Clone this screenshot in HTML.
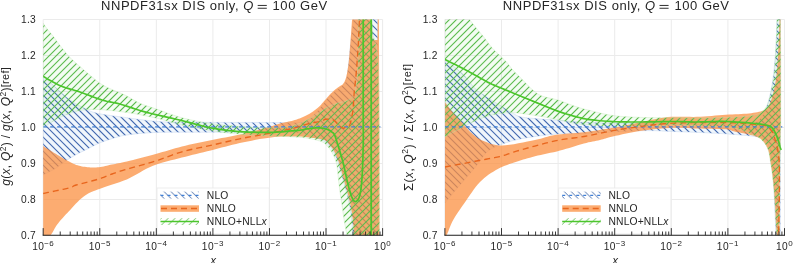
<!DOCTYPE html>
<html><head><meta charset="utf-8"><style>
html,body{margin:0;padding:0;background:#fff;width:793px;height:263px;overflow:hidden}
svg{display:block;will-change:transform}
text{font-family:"Liberation Sans",sans-serif;fill:#262626}
</style></head><body>
<svg width="793" height="263" viewBox="0 0 793 263">
<defs>
<pattern id="hb" patternUnits="userSpaceOnUse" width="6.9" height="6.9">
<path d="M-1,-1 L7.9,7.9 M-1,5.9 L1,7.9 M5.9,-1 L7.9,1" stroke="#4b6fab" stroke-width="1" shape-rendering="crispEdges"/>
</pattern>
<pattern id="hg" patternUnits="userSpaceOnUse" width="6.9" height="6.9">
<path d="M-1,7.9 L7.9,-1 M-1,1 L1,-1 M5.9,7.9 L7.9,5.9" stroke="#62bd55" stroke-width="1" shape-rendering="crispEdges"/>
</pattern>
<pattern id="hbl" patternUnits="userSpaceOnUse" width="6.9" height="6.9">
<path d="M-1,-1 L7.9,7.9 M-1,5.9 L1,7.9 M5.9,-1 L7.9,1" stroke="#4b6fab" stroke-width="1" shape-rendering="crispEdges"/>
</pattern>
<pattern id="hgl" patternUnits="userSpaceOnUse" width="6.9" height="6.9">
<path d="M-1,7.9 L7.9,-1 M-1,1 L1,-1 M5.9,7.9 L7.9,5.9" stroke="#62bd55" stroke-width="1" shape-rendering="crispEdges"/>
</pattern>
</defs>
<rect width="793" height="263" fill="#fff"/>
<clipPath id="cl"><rect x="43.2" y="19.5" width="339.40000000000003" height="216.0"/></clipPath>
<g stroke="#ebebeb" stroke-width="1"><line x1="43.20" y1="19.5" x2="43.20" y2="235.5"/>
<line x1="99.77" y1="19.5" x2="99.77" y2="235.5"/>
<line x1="156.33" y1="19.5" x2="156.33" y2="235.5"/>
<line x1="212.90" y1="19.5" x2="212.90" y2="235.5"/>
<line x1="269.47" y1="19.5" x2="269.47" y2="235.5"/>
<line x1="326.03" y1="19.5" x2="326.03" y2="235.5"/>
<line x1="382.60" y1="19.5" x2="382.60" y2="235.5"/>
<line x1="43.2" y1="19.50" x2="382.6" y2="19.50"/>
<line x1="43.2" y1="55.50" x2="382.6" y2="55.50"/>
<line x1="43.2" y1="91.50" x2="382.6" y2="91.50"/>
<line x1="43.2" y1="127.50" x2="382.6" y2="127.50"/>
<line x1="43.2" y1="163.50" x2="382.6" y2="163.50"/>
<line x1="43.2" y1="199.50" x2="382.6" y2="199.50"/>
<line x1="43.2" y1="235.50" x2="382.6" y2="235.50"/></g>
<g clip-path="url(#cl)">
<path d="M43.00,76.00 L43.91,76.83 L45.09,77.93 L46.49,79.23 L48.06,80.69 L49.75,82.25 L51.51,83.85 L53.27,85.45 L55.00,87.00 L56.73,88.56 L58.54,90.21 L60.41,91.93 L62.31,93.66 L64.24,95.37 L66.18,97.02 L68.10,98.58 L70.00,100.00 L71.89,101.30 L73.80,102.53 L75.72,103.68 L77.64,104.76 L79.54,105.77 L81.40,106.73 L83.23,107.64 L85.00,108.50 L86.59,109.29 L87.97,109.99 L89.25,110.63 L90.53,111.21 L91.91,111.76 L93.51,112.30 L95.44,112.84 L97.80,113.40 L100.65,113.97 L103.91,114.53 L107.49,115.09 L111.29,115.63 L115.22,116.17 L119.18,116.69 L123.07,117.20 L126.80,117.70 L130.44,118.20 L134.10,118.71 L137.76,119.22 L141.43,119.71 L145.06,120.18 L148.67,120.61 L152.22,120.98 L155.70,121.30 L158.67,121.55 L160.97,121.73 L162.96,121.86 L165.04,121.96 L167.59,122.03 L170.99,122.08 L175.63,122.13 L181.90,122.20 L190.44,122.27 L201.16,122.32 L213.35,122.37 L226.28,122.41 L239.23,122.44 L251.48,122.46 L262.31,122.48 L271.00,122.50 L277.63,122.54 L282.92,122.61 L287.11,122.70 L290.44,122.77 L293.16,122.81 L295.49,122.79 L297.70,122.69 L300.00,122.50 L302.19,122.21 L303.93,121.83 L305.32,121.38 L306.44,120.88 L307.38,120.32 L308.23,119.73 L309.07,119.12 L310.00,118.50 L310.94,117.85 L311.78,117.15 L312.54,116.42 L313.25,115.66 L313.93,114.87 L314.59,114.08 L315.28,113.29 L316.00,112.50 L316.75,111.72 L317.50,110.95 L318.25,110.17 L319.00,109.38 L319.75,108.57 L320.50,107.74 L321.25,106.89 L322.00,106.00 L322.74,105.06 L323.48,104.07 L324.21,103.04 L324.94,102.00 L325.68,100.96 L326.43,99.93 L327.20,98.94 L328.00,98.00 L328.83,97.10 L329.70,96.22 L330.60,95.36 L331.50,94.53 L332.40,93.73 L333.30,92.95 L334.17,92.21 L335.00,91.50 L335.80,90.85 L336.59,90.27 L337.37,89.73 L338.12,89.22 L338.87,88.71 L339.59,88.18 L340.30,87.62 L341.00,87.00 L341.69,86.39 L342.38,85.84 L343.06,85.30 L343.72,84.72 L344.35,84.05 L344.95,83.24 L345.50,82.24 L346.00,81.00 L346.44,79.51 L346.81,77.80 L347.14,75.91 L347.44,73.88 L347.71,71.73 L347.97,69.52 L348.23,67.26 L348.50,65.00 L348.77,62.73 L349.01,60.42 L349.24,58.06 L349.47,55.62 L349.70,53.12 L349.94,50.52 L350.21,47.81 L350.50,45.00 L350.85,41.86 L351.25,38.31 L351.68,34.55 L352.12,30.75 L352.55,27.11 L352.94,23.81 L353.26,21.05 L353.50,19.00 L377.70,19.00 L377.70,235.50 L352.50,235.50 L352.46,234.30 L352.41,232.70 L352.35,230.80 L352.29,228.69 L352.20,226.46 L352.10,224.20 L351.96,222.02 L351.80,220.00 L351.60,218.09 L351.38,216.19 L351.14,214.30 L350.87,212.41 L350.58,210.54 L350.27,208.67 L349.94,206.83 L349.60,205.00 L349.24,203.19 L348.85,201.41 L348.44,199.64 L348.01,197.88 L347.57,196.13 L347.12,194.39 L346.66,192.65 L346.20,190.90 L345.73,189.15 L345.23,187.39 L344.73,185.63 L344.21,183.88 L343.70,182.14 L343.19,180.41 L342.68,178.69 L342.20,177.00 L341.72,175.29 L341.25,173.55 L340.78,171.81 L340.31,170.09 L339.86,168.42 L339.42,166.83 L339.00,165.35 L338.60,164.00 L338.23,162.80 L337.89,161.74 L337.57,160.77 L337.26,159.89 L336.96,159.07 L336.65,158.28 L336.34,157.50 L336.00,156.70 L335.65,155.91 L335.31,155.16 L334.96,154.45 L334.60,153.75 L334.23,153.07 L333.84,152.39 L333.44,151.70 L333.00,151.00 L332.54,150.28 L332.07,149.55 L331.58,148.82 L331.08,148.09 L330.54,147.36 L329.99,146.65 L329.41,145.96 L328.80,145.30 L328.20,144.66 L327.63,144.05 L327.06,143.46 L326.45,142.88 L325.77,142.31 L324.99,141.74 L324.08,141.18 L323.00,140.60 L321.70,140.01 L320.19,139.41 L318.52,138.80 L316.76,138.19 L314.97,137.60 L313.21,137.04 L311.53,136.50 L310.00,136.00 L308.74,135.53 L307.73,135.09 L306.87,134.66 L306.00,134.26 L305.01,133.89 L303.77,133.56 L302.14,133.26 L300.00,133.00 L297.57,132.79 L295.07,132.63 L292.36,132.50 L289.31,132.41 L285.79,132.34 L281.65,132.29 L276.76,132.25 L271.00,132.20 L263.95,132.16 L255.58,132.14 L246.28,132.13 L236.46,132.13 L226.52,132.14 L216.86,132.16 L207.88,132.18 L200.00,132.20 L193.08,132.21 L186.69,132.20 L180.76,132.19 L175.22,132.19 L170.01,132.21 L165.07,132.26 L160.32,132.36 L155.70,132.50 L151.25,132.70 L147.06,132.94 L143.11,133.22 L139.41,133.54 L135.93,133.88 L132.67,134.24 L129.63,134.62 L126.80,135.00 L124.26,135.40 L122.07,135.82 L120.14,136.26 L118.41,136.72 L116.80,137.20 L115.24,137.69 L113.67,138.19 L112.00,138.70 L110.28,139.22 L108.59,139.74 L106.92,140.28 L105.29,140.82 L103.68,141.39 L102.10,141.97 L100.54,142.57 L99.00,143.20 L97.50,143.86 L96.04,144.54 L94.61,145.25 L93.20,145.97 L91.80,146.71 L90.41,147.45 L89.01,148.18 L87.60,148.90 L86.17,149.60 L84.75,150.30 L83.32,150.98 L81.90,151.68 L80.47,152.37 L79.05,153.09 L77.62,153.83 L76.20,154.60 L74.76,155.41 L73.30,156.24 L71.82,157.10 L70.36,157.98 L68.91,158.87 L67.49,159.75 L66.11,160.63 L64.80,161.50 L63.58,162.36 L62.45,163.21 L61.38,164.06 L60.33,164.91 L59.28,165.76 L58.17,166.61 L56.99,167.46 L55.70,168.30 L54.20,169.19 L52.48,170.14 L50.64,171.11 L48.78,172.08 L46.99,172.98 L45.37,173.80 L44.00,174.48 L43.00,175.00 Z" fill="#5b9be0" fill-opacity="0.09" stroke="none"/>
<clipPath id="clb"><path d="M43.00,76.00 L43.91,76.83 L45.09,77.93 L46.49,79.23 L48.06,80.69 L49.75,82.25 L51.51,83.85 L53.27,85.45 L55.00,87.00 L56.73,88.56 L58.54,90.21 L60.41,91.93 L62.31,93.66 L64.24,95.37 L66.18,97.02 L68.10,98.58 L70.00,100.00 L71.89,101.30 L73.80,102.53 L75.72,103.68 L77.64,104.76 L79.54,105.77 L81.40,106.73 L83.23,107.64 L85.00,108.50 L86.59,109.29 L87.97,109.99 L89.25,110.63 L90.53,111.21 L91.91,111.76 L93.51,112.30 L95.44,112.84 L97.80,113.40 L100.65,113.97 L103.91,114.53 L107.49,115.09 L111.29,115.63 L115.22,116.17 L119.18,116.69 L123.07,117.20 L126.80,117.70 L130.44,118.20 L134.10,118.71 L137.76,119.22 L141.43,119.71 L145.06,120.18 L148.67,120.61 L152.22,120.98 L155.70,121.30 L158.67,121.55 L160.97,121.73 L162.96,121.86 L165.04,121.96 L167.59,122.03 L170.99,122.08 L175.63,122.13 L181.90,122.20 L190.44,122.27 L201.16,122.32 L213.35,122.37 L226.28,122.41 L239.23,122.44 L251.48,122.46 L262.31,122.48 L271.00,122.50 L277.63,122.54 L282.92,122.61 L287.11,122.70 L290.44,122.77 L293.16,122.81 L295.49,122.79 L297.70,122.69 L300.00,122.50 L302.19,122.21 L303.93,121.83 L305.32,121.38 L306.44,120.88 L307.38,120.32 L308.23,119.73 L309.07,119.12 L310.00,118.50 L310.94,117.85 L311.78,117.15 L312.54,116.42 L313.25,115.66 L313.93,114.87 L314.59,114.08 L315.28,113.29 L316.00,112.50 L316.75,111.72 L317.50,110.95 L318.25,110.17 L319.00,109.38 L319.75,108.57 L320.50,107.74 L321.25,106.89 L322.00,106.00 L322.74,105.06 L323.48,104.07 L324.21,103.04 L324.94,102.00 L325.68,100.96 L326.43,99.93 L327.20,98.94 L328.00,98.00 L328.83,97.10 L329.70,96.22 L330.60,95.36 L331.50,94.53 L332.40,93.73 L333.30,92.95 L334.17,92.21 L335.00,91.50 L335.80,90.85 L336.59,90.27 L337.37,89.73 L338.12,89.22 L338.87,88.71 L339.59,88.18 L340.30,87.62 L341.00,87.00 L341.69,86.39 L342.38,85.84 L343.06,85.30 L343.72,84.72 L344.35,84.05 L344.95,83.24 L345.50,82.24 L346.00,81.00 L346.44,79.51 L346.81,77.80 L347.14,75.91 L347.44,73.88 L347.71,71.73 L347.97,69.52 L348.23,67.26 L348.50,65.00 L348.77,62.73 L349.01,60.42 L349.24,58.06 L349.47,55.62 L349.70,53.12 L349.94,50.52 L350.21,47.81 L350.50,45.00 L350.85,41.86 L351.25,38.31 L351.68,34.55 L352.12,30.75 L352.55,27.11 L352.94,23.81 L353.26,21.05 L353.50,19.00 L377.70,19.00 L377.70,235.50 L352.50,235.50 L352.46,234.30 L352.41,232.70 L352.35,230.80 L352.29,228.69 L352.20,226.46 L352.10,224.20 L351.96,222.02 L351.80,220.00 L351.60,218.09 L351.38,216.19 L351.14,214.30 L350.87,212.41 L350.58,210.54 L350.27,208.67 L349.94,206.83 L349.60,205.00 L349.24,203.19 L348.85,201.41 L348.44,199.64 L348.01,197.88 L347.57,196.13 L347.12,194.39 L346.66,192.65 L346.20,190.90 L345.73,189.15 L345.23,187.39 L344.73,185.63 L344.21,183.88 L343.70,182.14 L343.19,180.41 L342.68,178.69 L342.20,177.00 L341.72,175.29 L341.25,173.55 L340.78,171.81 L340.31,170.09 L339.86,168.42 L339.42,166.83 L339.00,165.35 L338.60,164.00 L338.23,162.80 L337.89,161.74 L337.57,160.77 L337.26,159.89 L336.96,159.07 L336.65,158.28 L336.34,157.50 L336.00,156.70 L335.65,155.91 L335.31,155.16 L334.96,154.45 L334.60,153.75 L334.23,153.07 L333.84,152.39 L333.44,151.70 L333.00,151.00 L332.54,150.28 L332.07,149.55 L331.58,148.82 L331.08,148.09 L330.54,147.36 L329.99,146.65 L329.41,145.96 L328.80,145.30 L328.20,144.66 L327.63,144.05 L327.06,143.46 L326.45,142.88 L325.77,142.31 L324.99,141.74 L324.08,141.18 L323.00,140.60 L321.70,140.01 L320.19,139.41 L318.52,138.80 L316.76,138.19 L314.97,137.60 L313.21,137.04 L311.53,136.50 L310.00,136.00 L308.74,135.53 L307.73,135.09 L306.87,134.66 L306.00,134.26 L305.01,133.89 L303.77,133.56 L302.14,133.26 L300.00,133.00 L297.57,132.79 L295.07,132.63 L292.36,132.50 L289.31,132.41 L285.79,132.34 L281.65,132.29 L276.76,132.25 L271.00,132.20 L263.95,132.16 L255.58,132.14 L246.28,132.13 L236.46,132.13 L226.52,132.14 L216.86,132.16 L207.88,132.18 L200.00,132.20 L193.08,132.21 L186.69,132.20 L180.76,132.19 L175.22,132.19 L170.01,132.21 L165.07,132.26 L160.32,132.36 L155.70,132.50 L151.25,132.70 L147.06,132.94 L143.11,133.22 L139.41,133.54 L135.93,133.88 L132.67,134.24 L129.63,134.62 L126.80,135.00 L124.26,135.40 L122.07,135.82 L120.14,136.26 L118.41,136.72 L116.80,137.20 L115.24,137.69 L113.67,138.19 L112.00,138.70 L110.28,139.22 L108.59,139.74 L106.92,140.28 L105.29,140.82 L103.68,141.39 L102.10,141.97 L100.54,142.57 L99.00,143.20 L97.50,143.86 L96.04,144.54 L94.61,145.25 L93.20,145.97 L91.80,146.71 L90.41,147.45 L89.01,148.18 L87.60,148.90 L86.17,149.60 L84.75,150.30 L83.32,150.98 L81.90,151.68 L80.47,152.37 L79.05,153.09 L77.62,153.83 L76.20,154.60 L74.76,155.41 L73.30,156.24 L71.82,157.10 L70.36,157.98 L68.91,158.87 L67.49,159.75 L66.11,160.63 L64.80,161.50 L63.58,162.36 L62.45,163.21 L61.38,164.06 L60.33,164.91 L59.28,165.76 L58.17,166.61 L56.99,167.46 L55.70,168.30 L54.20,169.19 L52.48,170.14 L50.64,171.11 L48.78,172.08 L46.99,172.98 L45.37,173.80 L44.00,174.48 L43.00,175.00 Z"/></clipPath>
<path d="M-202.50,17.5L17.50,237.5M-195.50,17.5L24.50,237.5M-188.50,17.5L31.50,237.5M-181.50,17.5L38.50,237.5M-174.50,17.5L45.50,237.5M-167.50,17.5L52.50,237.5M-160.50,17.5L59.50,237.5M-153.50,17.5L66.50,237.5M-146.50,17.5L73.50,237.5M-139.50,17.5L80.50,237.5M-132.50,17.5L87.50,237.5M-125.50,17.5L94.50,237.5M-118.50,17.5L101.50,237.5M-111.50,17.5L108.50,237.5M-104.50,17.5L115.50,237.5M-97.50,17.5L122.50,237.5M-90.50,17.5L129.50,237.5M-83.50,17.5L136.50,237.5M-76.50,17.5L143.50,237.5M-69.50,17.5L150.50,237.5M-62.50,17.5L157.50,237.5M-55.50,17.5L164.50,237.5M-48.50,17.5L171.50,237.5M-41.50,17.5L178.50,237.5M-34.50,17.5L185.50,237.5M-27.50,17.5L192.50,237.5M-20.50,17.5L199.50,237.5M-13.50,17.5L206.50,237.5M-6.50,17.5L213.50,237.5M0.50,17.5L220.50,237.5M7.50,17.5L227.50,237.5M14.50,17.5L234.50,237.5M21.50,17.5L241.50,237.5M28.50,17.5L248.50,237.5M35.50,17.5L255.50,237.5M42.50,17.5L262.50,237.5M49.50,17.5L269.50,237.5M56.50,17.5L276.50,237.5M63.50,17.5L283.50,237.5M70.50,17.5L290.50,237.5M77.50,17.5L297.50,237.5M84.50,17.5L304.50,237.5M91.50,17.5L311.50,237.5M98.50,17.5L318.50,237.5M105.50,17.5L325.50,237.5M112.50,17.5L332.50,237.5M119.50,17.5L339.50,237.5M126.50,17.5L346.50,237.5M133.50,17.5L353.50,237.5M140.50,17.5L360.50,237.5M147.50,17.5L367.50,237.5M154.50,17.5L374.50,237.5M161.50,17.5L381.50,237.5M168.50,17.5L388.50,237.5M175.50,17.5L395.50,237.5M182.50,17.5L402.50,237.5M189.50,17.5L409.50,237.5M196.50,17.5L416.50,237.5M203.50,17.5L423.50,237.5M210.50,17.5L430.50,237.5M217.50,17.5L437.50,237.5M224.50,17.5L444.50,237.5M231.50,17.5L451.50,237.5M238.50,17.5L458.50,237.5M245.50,17.5L465.50,237.5M252.50,17.5L472.50,237.5M259.50,17.5L479.50,237.5M266.50,17.5L486.50,237.5M273.50,17.5L493.50,237.5M280.50,17.5L500.50,237.5M287.50,17.5L507.50,237.5M294.50,17.5L514.50,237.5M301.50,17.5L521.50,237.5M308.50,17.5L528.50,237.5M315.50,17.5L535.50,237.5M322.50,17.5L542.50,237.5M329.50,17.5L549.50,237.5M336.50,17.5L556.50,237.5M343.50,17.5L563.50,237.5M350.50,17.5L570.50,237.5M357.50,17.5L577.50,237.5M364.50,17.5L584.50,237.5M371.50,17.5L591.50,237.5M378.50,17.5L598.50,237.5M385.50,17.5L605.50,237.5M392.50,17.5L612.50,237.5M399.50,17.5L619.50,237.5M406.50,17.5L626.50,237.5" clip-path="url(#clb)" stroke="#456ab0" stroke-width="1.15" shape-rendering="auto" fill="none"/>
<path d="M43.00,76.00 L43.91,76.83 L45.09,77.93 L46.49,79.23 L48.06,80.69 L49.75,82.25 L51.51,83.85 L53.27,85.45 L55.00,87.00 L56.73,88.56 L58.54,90.21 L60.41,91.93 L62.31,93.66 L64.24,95.37 L66.18,97.02 L68.10,98.58 L70.00,100.00 L71.89,101.30 L73.80,102.53 L75.72,103.68 L77.64,104.76 L79.54,105.77 L81.40,106.73 L83.23,107.64 L85.00,108.50 L86.59,109.29 L87.97,109.99 L89.25,110.63 L90.53,111.21 L91.91,111.76 L93.51,112.30 L95.44,112.84 L97.80,113.40 L100.65,113.97 L103.91,114.53 L107.49,115.09 L111.29,115.63 L115.22,116.17 L119.18,116.69 L123.07,117.20 L126.80,117.70 L130.44,118.20 L134.10,118.71 L137.76,119.22 L141.43,119.71 L145.06,120.18 L148.67,120.61 L152.22,120.98 L155.70,121.30 L158.67,121.55 L160.97,121.73 L162.96,121.86 L165.04,121.96 L167.59,122.03 L170.99,122.08 L175.63,122.13 L181.90,122.20 L190.44,122.27 L201.16,122.32 L213.35,122.37 L226.28,122.41 L239.23,122.44 L251.48,122.46 L262.31,122.48 L271.00,122.50 L277.63,122.54 L282.92,122.61 L287.11,122.70 L290.44,122.77 L293.16,122.81 L295.49,122.79 L297.70,122.69 L300.00,122.50 L302.19,122.21 L303.93,121.83 L305.32,121.38 L306.44,120.88 L307.38,120.32 L308.23,119.73 L309.07,119.12 L310.00,118.50 L310.94,117.85 L311.78,117.15 L312.54,116.42 L313.25,115.66 L313.93,114.87 L314.59,114.08 L315.28,113.29 L316.00,112.50 L316.75,111.72 L317.50,110.95 L318.25,110.17 L319.00,109.38 L319.75,108.57 L320.50,107.74 L321.25,106.89 L322.00,106.00 L322.74,105.06 L323.48,104.07 L324.21,103.04 L324.94,102.00 L325.68,100.96 L326.43,99.93 L327.20,98.94 L328.00,98.00 L328.83,97.10 L329.70,96.22 L330.60,95.36 L331.50,94.53 L332.40,93.73 L333.30,92.95 L334.17,92.21 L335.00,91.50 L335.80,90.85 L336.59,90.27 L337.37,89.73 L338.12,89.22 L338.87,88.71 L339.59,88.18 L340.30,87.62 L341.00,87.00 L341.69,86.39 L342.38,85.84 L343.06,85.30 L343.72,84.72 L344.35,84.05 L344.95,83.24 L345.50,82.24 L346.00,81.00 L346.44,79.51 L346.81,77.80 L347.14,75.91 L347.44,73.88 L347.71,71.73 L347.97,69.52 L348.23,67.26 L348.50,65.00 L348.77,62.73 L349.01,60.42 L349.24,58.06 L349.47,55.62 L349.70,53.12 L349.94,50.52 L350.21,47.81 L350.50,45.00 L350.85,41.86 L351.25,38.31 L351.68,34.55 L352.12,30.75 L352.55,27.11 L352.94,23.81 L353.26,21.05 L353.50,19.00 L377.70,19.00 L377.70,235.50 L352.50,235.50 L352.46,234.30 L352.41,232.70 L352.35,230.80 L352.29,228.69 L352.20,226.46 L352.10,224.20 L351.96,222.02 L351.80,220.00 L351.60,218.09 L351.38,216.19 L351.14,214.30 L350.87,212.41 L350.58,210.54 L350.27,208.67 L349.94,206.83 L349.60,205.00 L349.24,203.19 L348.85,201.41 L348.44,199.64 L348.01,197.88 L347.57,196.13 L347.12,194.39 L346.66,192.65 L346.20,190.90 L345.73,189.15 L345.23,187.39 L344.73,185.63 L344.21,183.88 L343.70,182.14 L343.19,180.41 L342.68,178.69 L342.20,177.00 L341.72,175.29 L341.25,173.55 L340.78,171.81 L340.31,170.09 L339.86,168.42 L339.42,166.83 L339.00,165.35 L338.60,164.00 L338.23,162.80 L337.89,161.74 L337.57,160.77 L337.26,159.89 L336.96,159.07 L336.65,158.28 L336.34,157.50 L336.00,156.70 L335.65,155.91 L335.31,155.16 L334.96,154.45 L334.60,153.75 L334.23,153.07 L333.84,152.39 L333.44,151.70 L333.00,151.00 L332.54,150.28 L332.07,149.55 L331.58,148.82 L331.08,148.09 L330.54,147.36 L329.99,146.65 L329.41,145.96 L328.80,145.30 L328.20,144.66 L327.63,144.05 L327.06,143.46 L326.45,142.88 L325.77,142.31 L324.99,141.74 L324.08,141.18 L323.00,140.60 L321.70,140.01 L320.19,139.41 L318.52,138.80 L316.76,138.19 L314.97,137.60 L313.21,137.04 L311.53,136.50 L310.00,136.00 L308.74,135.53 L307.73,135.09 L306.87,134.66 L306.00,134.26 L305.01,133.89 L303.77,133.56 L302.14,133.26 L300.00,133.00 L297.57,132.79 L295.07,132.63 L292.36,132.50 L289.31,132.41 L285.79,132.34 L281.65,132.29 L276.76,132.25 L271.00,132.20 L263.95,132.16 L255.58,132.14 L246.28,132.13 L236.46,132.13 L226.52,132.14 L216.86,132.16 L207.88,132.18 L200.00,132.20 L193.08,132.21 L186.69,132.20 L180.76,132.19 L175.22,132.19 L170.01,132.21 L165.07,132.26 L160.32,132.36 L155.70,132.50 L151.25,132.70 L147.06,132.94 L143.11,133.22 L139.41,133.54 L135.93,133.88 L132.67,134.24 L129.63,134.62 L126.80,135.00 L124.26,135.40 L122.07,135.82 L120.14,136.26 L118.41,136.72 L116.80,137.20 L115.24,137.69 L113.67,138.19 L112.00,138.70 L110.28,139.22 L108.59,139.74 L106.92,140.28 L105.29,140.82 L103.68,141.39 L102.10,141.97 L100.54,142.57 L99.00,143.20 L97.50,143.86 L96.04,144.54 L94.61,145.25 L93.20,145.97 L91.80,146.71 L90.41,147.45 L89.01,148.18 L87.60,148.90 L86.17,149.60 L84.75,150.30 L83.32,150.98 L81.90,151.68 L80.47,152.37 L79.05,153.09 L77.62,153.83 L76.20,154.60 L74.76,155.41 L73.30,156.24 L71.82,157.10 L70.36,157.98 L68.91,158.87 L67.49,159.75 L66.11,160.63 L64.80,161.50 L63.58,162.36 L62.45,163.21 L61.38,164.06 L60.33,164.91 L59.28,165.76 L58.17,166.61 L56.99,167.46 L55.70,168.30 L54.20,169.19 L52.48,170.14 L50.64,171.11 L48.78,172.08 L46.99,172.98 L45.37,173.80 L44.00,174.48 L43.00,175.00 Z" fill="none" stroke="#b9d0ee" stroke-width="0.6" stroke-opacity="0.7"/>
<path d="M43.00,146.00 L43.80,146.49 L44.85,147.14 L46.09,147.91 L47.49,148.78 L48.97,149.69 L50.49,150.62 L51.98,151.54 L53.40,152.40 L54.78,153.24 L56.18,154.10 L57.60,154.97 L59.04,155.84 L60.48,156.71 L61.93,157.57 L63.37,158.40 L64.80,159.20 L66.22,159.99 L67.65,160.78 L69.08,161.57 L70.50,162.33 L71.92,163.06 L73.35,163.74 L74.78,164.36 L76.20,164.90 L77.62,165.37 L79.05,165.77 L80.48,166.11 L81.90,166.41 L83.33,166.66 L84.75,166.87 L86.17,167.05 L87.60,167.20 L89.01,167.33 L90.41,167.42 L91.80,167.49 L93.20,167.51 L94.61,167.50 L96.04,167.44 L97.50,167.34 L99.00,167.20 L100.54,166.99 L102.10,166.72 L103.68,166.40 L105.29,166.04 L106.92,165.65 L108.59,165.26 L110.28,164.87 L112.00,164.50 L113.67,164.17 L115.24,163.88 L116.80,163.59 L118.41,163.30 L120.14,162.97 L122.07,162.57 L124.26,162.09 L126.80,161.50 L129.76,160.78 L133.10,159.94 L136.72,159.02 L140.54,158.03 L144.44,157.01 L148.33,155.98 L152.12,154.97 L155.70,154.00 L159.09,153.05 L162.38,152.10 L165.60,151.13 L168.80,150.17 L172.00,149.22 L175.22,148.29 L178.51,147.38 L181.90,146.50 L185.38,145.65 L188.93,144.83 L192.54,144.02 L196.18,143.24 L199.84,142.47 L203.50,141.70 L207.16,140.95 L210.80,140.20 L214.44,139.47 L218.11,138.76 L221.79,138.06 L225.47,137.38 L229.13,136.68 L232.74,135.98 L236.31,135.26 L239.80,134.50 L243.29,133.69 L246.83,132.84 L250.37,131.96 L253.84,131.06 L257.19,130.18 L260.37,129.33 L263.33,128.53 L266.00,127.80 L268.34,127.14 L270.37,126.53 L272.17,125.95 L273.81,125.42 L275.34,124.91 L276.84,124.43 L278.37,123.96 L280.00,123.50 L281.72,123.07 L283.46,122.67 L285.20,122.30 L286.92,121.95 L288.61,121.60 L290.24,121.25 L291.81,120.89 L293.30,120.50 L294.70,120.09 L296.02,119.68 L297.28,119.25 L298.48,118.83 L299.65,118.39 L300.78,117.94 L301.89,117.47 L303.00,117.00 L304.08,116.52 L305.13,116.04 L306.14,115.55 L307.12,115.04 L308.10,114.52 L309.06,113.98 L310.03,113.41 L311.00,112.80 L311.99,112.15 L312.99,111.47 L314.00,110.76 L314.99,110.03 L315.97,109.27 L316.92,108.52 L317.84,107.76 L318.70,107.00 L319.52,106.24 L320.29,105.46 L321.03,104.66 L321.74,103.87 L322.43,103.08 L323.10,102.30 L323.75,101.53 L324.40,100.80 L325.02,100.09 L325.62,99.40 L326.19,98.73 L326.74,98.07 L327.29,97.42 L327.85,96.78 L328.41,96.14 L329.00,95.50 L329.60,94.87 L330.20,94.24 L330.80,93.62 L331.41,93.01 L332.03,92.40 L332.67,91.79 L333.32,91.20 L334.00,90.60 L334.72,89.99 L335.50,89.37 L336.31,88.74 L337.12,88.12 L337.93,87.52 L338.69,86.96 L339.39,86.45 L340.00,86.00 L340.52,85.65 L340.97,85.39 L341.36,85.19 L341.71,85.03 L342.04,84.86 L342.35,84.65 L342.66,84.38 L343.00,84.00 L343.35,83.55 L343.69,83.05 L344.03,82.52 L344.36,81.94 L344.69,81.30 L345.00,80.60 L345.31,79.84 L345.60,79.00 L345.88,78.11 L346.15,77.17 L346.40,76.18 L346.65,75.12 L346.89,73.99 L347.13,72.77 L347.36,71.44 L347.60,70.00 L347.83,68.56 L348.04,67.16 L348.25,65.74 L348.46,64.19 L348.67,62.43 L348.89,60.37 L349.13,57.92 L349.40,55.00 L349.71,51.26 L350.07,46.63 L350.47,41.46 L350.86,36.06 L351.25,30.79 L351.59,25.96 L351.89,21.92 L352.10,19.00 L372.00,19.00 L372.50,40.00 L377.50,40.00 L377.70,19.00 L378.90,19.00 L379.10,60.00 L379.30,100.00 L379.40,150.00 L379.50,235.50 L354.20,235.50 L354.10,234.28 L353.97,232.66 L353.82,230.72 L353.64,228.57 L353.45,226.31 L353.25,224.03 L353.03,221.83 L352.80,219.80 L352.56,217.90 L352.32,216.02 L352.06,214.15 L351.78,212.30 L351.49,210.46 L351.18,208.63 L350.85,206.81 L350.50,205.00 L350.12,203.20 L349.72,201.42 L349.30,199.65 L348.86,197.89 L348.40,196.14 L347.94,194.39 L347.47,192.65 L347.00,190.90 L346.52,189.15 L346.03,187.39 L345.52,185.63 L345.01,183.88 L344.49,182.14 L343.98,180.41 L343.48,178.69 L343.00,177.00 L342.52,175.29 L342.05,173.55 L341.58,171.81 L341.11,170.09 L340.66,168.42 L340.22,166.83 L339.80,165.35 L339.40,164.00 L339.03,162.80 L338.68,161.74 L338.36,160.77 L338.05,159.89 L337.75,159.07 L337.44,158.28 L337.13,157.50 L336.80,156.70 L336.47,155.91 L336.14,155.16 L335.82,154.45 L335.49,153.75 L335.15,153.07 L334.79,152.39 L334.41,151.70 L334.00,151.00 L333.57,150.28 L333.12,149.56 L332.66,148.84 L332.18,148.12 L331.68,147.40 L331.15,146.69 L330.59,145.99 L330.00,145.30 L329.43,144.61 L328.91,143.90 L328.40,143.20 L327.84,142.51 L327.19,141.84 L326.42,141.21 L325.47,140.62 L324.30,140.10 L322.87,139.64 L321.19,139.23 L319.33,138.87 L317.34,138.54 L315.28,138.25 L313.22,137.98 L311.21,137.74 L309.30,137.50 L307.55,137.28 L305.90,137.07 L304.31,136.89 L302.71,136.72 L301.04,136.59 L299.24,136.49 L297.25,136.43 L295.00,136.40 L292.51,136.39 L289.85,136.39 L287.03,136.41 L284.06,136.47 L280.95,136.59 L277.73,136.77 L274.41,137.04 L271.00,137.40 L267.43,137.88 L263.65,138.46 L259.73,139.12 L255.71,139.86 L251.66,140.64 L247.61,141.45 L243.64,142.28 L239.80,143.10 L236.07,143.94 L232.39,144.81 L228.76,145.72 L225.16,146.66 L221.57,147.60 L217.99,148.54 L214.41,149.48 L210.80,150.40 L207.18,151.30 L203.57,152.19 L199.96,153.07 L196.34,153.95 L192.73,154.84 L189.12,155.74 L185.51,156.66 L181.90,157.60 L178.27,158.53 L174.61,159.43 L170.94,160.33 L167.28,161.24 L163.64,162.21 L160.04,163.26 L156.48,164.41 L153.00,165.70 L149.61,167.17 L146.33,168.82 L143.10,170.59 L139.91,172.43 L136.71,174.28 L133.48,176.10 L130.19,177.82 L126.80,179.40 L123.21,180.85 L119.40,182.25 L115.49,183.58 L111.56,184.86 L107.73,186.08 L104.09,187.26 L100.75,188.40 L97.80,189.50 L95.30,190.49 L93.18,191.33 L91.34,192.09 L89.69,192.82 L88.17,193.59 L86.66,194.45 L85.10,195.47 L83.40,196.70 L81.57,198.17 L79.71,199.85 L77.84,201.67 L75.97,203.59 L74.12,205.55 L72.32,207.51 L70.57,209.41 L68.90,211.20 L67.29,212.91 L65.72,214.60 L64.18,216.26 L62.70,217.90 L61.27,219.52 L59.91,221.10 L58.62,222.67 L57.40,224.20 L56.29,225.77 L55.27,227.41 L54.35,229.06 L53.47,230.66 L52.64,232.16 L51.81,233.51 L50.97,234.64 L50.10,235.50 L49.15,236.04 L48.14,236.29 L47.11,236.33 L46.09,236.21 L45.13,236.00 L44.27,235.76 L43.55,235.58 L43.00,235.50 Z" fill="#fb8f3f" fill-opacity="0.74" stroke="none"/>
<path d="M43.00,23.00 L43.38,23.54 L43.89,24.27 L44.49,25.13 L45.16,26.09 L45.88,27.10 L46.60,28.12 L47.32,29.10 L48.00,30.00 L48.66,30.83 L49.33,31.65 L50.01,32.45 L50.69,33.25 L51.38,34.05 L52.06,34.85 L52.74,35.67 L53.40,36.50 L54.05,37.35 L54.69,38.23 L55.33,39.11 L55.96,40.00 L56.59,40.89 L57.23,41.77 L57.86,42.65 L58.50,43.50 L59.14,44.34 L59.79,45.16 L60.44,45.97 L61.09,46.78 L61.74,47.58 L62.39,48.39 L63.04,49.19 L63.70,50.00 L64.35,50.81 L64.99,51.63 L65.62,52.45 L66.26,53.26 L66.91,54.08 L67.57,54.89 L68.27,55.70 L69.00,56.50 L69.78,57.31 L70.60,58.12 L71.45,58.93 L72.32,59.74 L73.20,60.54 L74.06,61.32 L74.90,62.08 L75.70,62.80 L76.46,63.49 L77.20,64.14 L77.91,64.77 L78.61,65.38 L79.31,65.98 L80.00,66.58 L80.69,67.18 L81.40,67.80 L82.11,68.43 L82.83,69.05 L83.54,69.68 L84.25,70.31 L84.96,70.94 L85.68,71.56 L86.39,72.18 L87.10,72.80 L87.81,73.41 L88.52,74.02 L89.24,74.62 L89.95,75.22 L90.66,75.82 L91.37,76.42 L92.09,77.01 L92.80,77.60 L93.51,78.19 L94.21,78.78 L94.90,79.36 L95.60,79.94 L96.30,80.52 L97.02,81.09 L97.75,81.65 L98.50,82.20 L99.27,82.74 L100.05,83.28 L100.84,83.81 L101.65,84.33 L102.47,84.84 L103.30,85.34 L104.14,85.83 L105.00,86.30 L105.87,86.75 L106.76,87.18 L107.67,87.60 L108.59,88.01 L109.51,88.40 L110.44,88.80 L111.37,89.20 L112.30,89.60 L113.23,90.00 L114.17,90.41 L115.12,90.81 L116.07,91.21 L117.02,91.60 L117.96,92.00 L118.89,92.40 L119.80,92.80 L120.66,93.17 L121.44,93.50 L122.19,93.82 L122.94,94.14 L123.74,94.50 L124.63,94.91 L125.63,95.40 L126.80,96.00 L128.14,96.73 L129.61,97.58 L131.19,98.52 L132.86,99.51 L134.59,100.51 L136.38,101.51 L138.19,102.45 L140.00,103.30 L141.77,104.05 L143.50,104.72 L145.24,105.34 L147.04,105.95 L148.93,106.57 L150.98,107.23 L153.22,107.96 L155.70,108.80 L158.45,109.77 L161.45,110.86 L164.64,112.02 L167.97,113.23 L171.42,114.44 L174.91,115.61 L178.42,116.71 L181.90,117.70 L185.38,118.59 L188.93,119.44 L192.54,120.23 L196.18,120.98 L199.84,121.67 L203.50,122.33 L207.16,122.93 L210.80,123.50 L214.41,124.01 L217.99,124.46 L221.57,124.87 L225.16,125.22 L228.76,125.55 L232.39,125.85 L236.07,126.13 L239.80,126.40 L243.68,126.67 L247.73,126.92 L251.88,127.15 L256.03,127.36 L260.10,127.54 L264.01,127.68 L267.67,127.76 L271.00,127.80 L273.99,127.80 L276.70,127.76 L279.19,127.69 L281.51,127.58 L283.70,127.41 L285.82,127.18 L287.90,126.88 L290.00,126.50 L292.07,126.04 L294.03,125.50 L295.92,124.89 L297.75,124.22 L299.55,123.49 L301.34,122.71 L303.15,121.87 L305.00,121.00 L306.92,120.04 L308.89,118.96 L310.89,117.81 L312.88,116.61 L314.81,115.42 L316.67,114.26 L318.41,113.17 L320.00,112.20 L321.41,111.32 L322.67,110.51 L323.81,109.74 L324.88,109.02 L325.89,108.34 L326.89,107.70 L327.92,107.09 L329.00,106.50 L330.12,105.95 L331.25,105.44 L332.38,104.97 L333.50,104.53 L334.62,104.12 L335.75,103.73 L336.88,103.36 L338.00,103.00 L339.14,102.69 L340.30,102.44 L341.46,102.24 L342.62,102.04 L343.77,101.83 L344.89,101.57 L345.97,101.24 L347.00,100.80 L348.00,100.28 L349.00,99.72 L349.97,99.12 L350.91,98.45 L351.79,97.71 L352.61,96.90 L353.35,96.00 L354.00,95.00 L354.54,93.89 L354.97,92.69 L355.32,91.39 L355.61,90.01 L355.86,88.57 L356.07,87.08 L356.28,85.55 L356.50,84.00 L356.71,82.65 L356.90,81.58 L357.06,80.60 L357.21,79.50 L357.34,78.09 L357.46,76.17 L357.58,73.54 L357.70,70.00 L357.82,65.05 L357.95,58.66 L358.06,51.34 L358.17,43.62 L358.28,36.02 L358.37,29.03 L358.44,23.19 L358.50,19.00 L372.00,19.00 L373.00,35.00 L376.00,45.00 L378.00,60.00 L379.00,100.00 L379.30,150.00 L379.50,235.50 L347.00,235.50 L346.77,234.28 L346.46,232.66 L346.09,230.72 L345.68,228.57 L345.26,226.31 L344.84,224.03 L344.44,221.83 L344.10,219.80 L343.80,217.91 L343.52,216.04 L343.26,214.19 L343.01,212.36 L342.77,210.53 L342.52,208.69 L342.27,206.85 L342.00,205.00 L341.72,203.13 L341.43,201.26 L341.13,199.39 L340.82,197.51 L340.53,195.63 L340.24,193.75 L339.96,191.88 L339.70,190.00 L339.46,188.09 L339.22,186.13 L339.00,184.16 L338.78,182.19 L338.57,180.26 L338.38,178.40 L338.18,176.64 L338.00,175.00 L337.83,173.49 L337.69,172.08 L337.56,170.76 L337.43,169.51 L337.30,168.33 L337.16,167.19 L336.99,166.08 L336.80,165.00 L336.58,163.96 L336.35,162.99 L336.11,162.08 L335.84,161.20 L335.56,160.35 L335.26,159.51 L334.94,158.66 L334.60,157.80 L334.23,156.92 L333.84,156.05 L333.43,155.17 L332.99,154.31 L332.54,153.45 L332.08,152.61 L331.59,151.79 L331.10,151.00 L330.59,150.22 L330.05,149.45 L329.49,148.69 L328.92,147.94 L328.34,147.23 L327.76,146.54 L327.17,145.90 L326.60,145.30 L326.09,144.76 L325.65,144.27 L325.24,143.82 L324.81,143.40 L324.32,143.00 L323.72,142.61 L322.96,142.21 L322.00,141.80 L320.81,141.37 L319.43,140.92 L317.90,140.47 L316.26,140.03 L314.54,139.60 L312.78,139.19 L311.02,138.83 L309.30,138.50 L307.66,138.22 L306.06,137.99 L304.48,137.78 L302.86,137.61 L301.14,137.45 L299.29,137.30 L297.26,137.15 L295.00,137.00 L292.51,136.86 L289.85,136.73 L287.03,136.62 L284.06,136.52 L280.95,136.41 L277.73,136.29 L274.41,136.16 L271.00,136.00 L267.43,135.82 L263.65,135.65 L259.73,135.46 L255.71,135.26 L251.66,135.03 L247.61,134.79 L243.64,134.51 L239.80,134.20 L236.07,133.86 L232.39,133.50 L228.76,133.11 L225.16,132.69 L221.57,132.25 L217.99,131.77 L214.41,131.25 L210.80,130.70 L207.16,130.10 L203.50,129.46 L199.84,128.78 L196.18,128.07 L192.54,127.33 L188.93,126.57 L185.38,125.79 L181.90,125.00 L178.51,124.18 L175.22,123.31 L172.00,122.40 L168.80,121.49 L165.60,120.57 L162.38,119.68 L159.09,118.81 L155.70,118.00 L152.22,117.22 L148.67,116.46 L145.06,115.72 L141.42,115.00 L137.76,114.31 L134.10,113.66 L130.44,113.06 L126.80,112.50 L123.10,111.98 L119.29,111.48 L115.44,111.02 L111.61,110.59 L107.86,110.22 L104.26,109.91 L100.89,109.67 L97.80,109.50 L95.00,109.42 L92.43,109.41 L90.05,109.47 L87.84,109.59 L85.76,109.77 L83.78,109.98 L81.87,110.23 L80.00,110.50 L78.23,110.80 L76.62,111.14 L75.12,111.52 L73.70,111.94 L72.32,112.39 L70.93,112.89 L69.51,113.43 L68.00,114.00 L66.42,114.62 L64.80,115.28 L63.15,115.98 L61.50,116.72 L59.85,117.49 L58.20,118.30 L56.58,119.14 L55.00,120.00 L53.37,120.96 L51.65,122.05 L49.90,123.21 L48.19,124.38 L46.58,125.50 L45.13,126.52 L43.92,127.37 L43.00,128.00 Z" fill="#5ccf44" fill-opacity="0.07" stroke="none"/>
<clipPath id="clg"><path d="M43.00,23.00 L43.38,23.54 L43.89,24.27 L44.49,25.13 L45.16,26.09 L45.88,27.10 L46.60,28.12 L47.32,29.10 L48.00,30.00 L48.66,30.83 L49.33,31.65 L50.01,32.45 L50.69,33.25 L51.38,34.05 L52.06,34.85 L52.74,35.67 L53.40,36.50 L54.05,37.35 L54.69,38.23 L55.33,39.11 L55.96,40.00 L56.59,40.89 L57.23,41.77 L57.86,42.65 L58.50,43.50 L59.14,44.34 L59.79,45.16 L60.44,45.97 L61.09,46.78 L61.74,47.58 L62.39,48.39 L63.04,49.19 L63.70,50.00 L64.35,50.81 L64.99,51.63 L65.62,52.45 L66.26,53.26 L66.91,54.08 L67.57,54.89 L68.27,55.70 L69.00,56.50 L69.78,57.31 L70.60,58.12 L71.45,58.93 L72.32,59.74 L73.20,60.54 L74.06,61.32 L74.90,62.08 L75.70,62.80 L76.46,63.49 L77.20,64.14 L77.91,64.77 L78.61,65.38 L79.31,65.98 L80.00,66.58 L80.69,67.18 L81.40,67.80 L82.11,68.43 L82.83,69.05 L83.54,69.68 L84.25,70.31 L84.96,70.94 L85.68,71.56 L86.39,72.18 L87.10,72.80 L87.81,73.41 L88.52,74.02 L89.24,74.62 L89.95,75.22 L90.66,75.82 L91.37,76.42 L92.09,77.01 L92.80,77.60 L93.51,78.19 L94.21,78.78 L94.90,79.36 L95.60,79.94 L96.30,80.52 L97.02,81.09 L97.75,81.65 L98.50,82.20 L99.27,82.74 L100.05,83.28 L100.84,83.81 L101.65,84.33 L102.47,84.84 L103.30,85.34 L104.14,85.83 L105.00,86.30 L105.87,86.75 L106.76,87.18 L107.67,87.60 L108.59,88.01 L109.51,88.40 L110.44,88.80 L111.37,89.20 L112.30,89.60 L113.23,90.00 L114.17,90.41 L115.12,90.81 L116.07,91.21 L117.02,91.60 L117.96,92.00 L118.89,92.40 L119.80,92.80 L120.66,93.17 L121.44,93.50 L122.19,93.82 L122.94,94.14 L123.74,94.50 L124.63,94.91 L125.63,95.40 L126.80,96.00 L128.14,96.73 L129.61,97.58 L131.19,98.52 L132.86,99.51 L134.59,100.51 L136.38,101.51 L138.19,102.45 L140.00,103.30 L141.77,104.05 L143.50,104.72 L145.24,105.34 L147.04,105.95 L148.93,106.57 L150.98,107.23 L153.22,107.96 L155.70,108.80 L158.45,109.77 L161.45,110.86 L164.64,112.02 L167.97,113.23 L171.42,114.44 L174.91,115.61 L178.42,116.71 L181.90,117.70 L185.38,118.59 L188.93,119.44 L192.54,120.23 L196.18,120.98 L199.84,121.67 L203.50,122.33 L207.16,122.93 L210.80,123.50 L214.41,124.01 L217.99,124.46 L221.57,124.87 L225.16,125.22 L228.76,125.55 L232.39,125.85 L236.07,126.13 L239.80,126.40 L243.68,126.67 L247.73,126.92 L251.88,127.15 L256.03,127.36 L260.10,127.54 L264.01,127.68 L267.67,127.76 L271.00,127.80 L273.99,127.80 L276.70,127.76 L279.19,127.69 L281.51,127.58 L283.70,127.41 L285.82,127.18 L287.90,126.88 L290.00,126.50 L292.07,126.04 L294.03,125.50 L295.92,124.89 L297.75,124.22 L299.55,123.49 L301.34,122.71 L303.15,121.87 L305.00,121.00 L306.92,120.04 L308.89,118.96 L310.89,117.81 L312.88,116.61 L314.81,115.42 L316.67,114.26 L318.41,113.17 L320.00,112.20 L321.41,111.32 L322.67,110.51 L323.81,109.74 L324.88,109.02 L325.89,108.34 L326.89,107.70 L327.92,107.09 L329.00,106.50 L330.12,105.95 L331.25,105.44 L332.38,104.97 L333.50,104.53 L334.62,104.12 L335.75,103.73 L336.88,103.36 L338.00,103.00 L339.14,102.69 L340.30,102.44 L341.46,102.24 L342.62,102.04 L343.77,101.83 L344.89,101.57 L345.97,101.24 L347.00,100.80 L348.00,100.28 L349.00,99.72 L349.97,99.12 L350.91,98.45 L351.79,97.71 L352.61,96.90 L353.35,96.00 L354.00,95.00 L354.54,93.89 L354.97,92.69 L355.32,91.39 L355.61,90.01 L355.86,88.57 L356.07,87.08 L356.28,85.55 L356.50,84.00 L356.71,82.65 L356.90,81.58 L357.06,80.60 L357.21,79.50 L357.34,78.09 L357.46,76.17 L357.58,73.54 L357.70,70.00 L357.82,65.05 L357.95,58.66 L358.06,51.34 L358.17,43.62 L358.28,36.02 L358.37,29.03 L358.44,23.19 L358.50,19.00 L372.00,19.00 L373.00,35.00 L376.00,45.00 L378.00,60.00 L379.00,100.00 L379.30,150.00 L379.50,235.50 L347.00,235.50 L346.77,234.28 L346.46,232.66 L346.09,230.72 L345.68,228.57 L345.26,226.31 L344.84,224.03 L344.44,221.83 L344.10,219.80 L343.80,217.91 L343.52,216.04 L343.26,214.19 L343.01,212.36 L342.77,210.53 L342.52,208.69 L342.27,206.85 L342.00,205.00 L341.72,203.13 L341.43,201.26 L341.13,199.39 L340.82,197.51 L340.53,195.63 L340.24,193.75 L339.96,191.88 L339.70,190.00 L339.46,188.09 L339.22,186.13 L339.00,184.16 L338.78,182.19 L338.57,180.26 L338.38,178.40 L338.18,176.64 L338.00,175.00 L337.83,173.49 L337.69,172.08 L337.56,170.76 L337.43,169.51 L337.30,168.33 L337.16,167.19 L336.99,166.08 L336.80,165.00 L336.58,163.96 L336.35,162.99 L336.11,162.08 L335.84,161.20 L335.56,160.35 L335.26,159.51 L334.94,158.66 L334.60,157.80 L334.23,156.92 L333.84,156.05 L333.43,155.17 L332.99,154.31 L332.54,153.45 L332.08,152.61 L331.59,151.79 L331.10,151.00 L330.59,150.22 L330.05,149.45 L329.49,148.69 L328.92,147.94 L328.34,147.23 L327.76,146.54 L327.17,145.90 L326.60,145.30 L326.09,144.76 L325.65,144.27 L325.24,143.82 L324.81,143.40 L324.32,143.00 L323.72,142.61 L322.96,142.21 L322.00,141.80 L320.81,141.37 L319.43,140.92 L317.90,140.47 L316.26,140.03 L314.54,139.60 L312.78,139.19 L311.02,138.83 L309.30,138.50 L307.66,138.22 L306.06,137.99 L304.48,137.78 L302.86,137.61 L301.14,137.45 L299.29,137.30 L297.26,137.15 L295.00,137.00 L292.51,136.86 L289.85,136.73 L287.03,136.62 L284.06,136.52 L280.95,136.41 L277.73,136.29 L274.41,136.16 L271.00,136.00 L267.43,135.82 L263.65,135.65 L259.73,135.46 L255.71,135.26 L251.66,135.03 L247.61,134.79 L243.64,134.51 L239.80,134.20 L236.07,133.86 L232.39,133.50 L228.76,133.11 L225.16,132.69 L221.57,132.25 L217.99,131.77 L214.41,131.25 L210.80,130.70 L207.16,130.10 L203.50,129.46 L199.84,128.78 L196.18,128.07 L192.54,127.33 L188.93,126.57 L185.38,125.79 L181.90,125.00 L178.51,124.18 L175.22,123.31 L172.00,122.40 L168.80,121.49 L165.60,120.57 L162.38,119.68 L159.09,118.81 L155.70,118.00 L152.22,117.22 L148.67,116.46 L145.06,115.72 L141.42,115.00 L137.76,114.31 L134.10,113.66 L130.44,113.06 L126.80,112.50 L123.10,111.98 L119.29,111.48 L115.44,111.02 L111.61,110.59 L107.86,110.22 L104.26,109.91 L100.89,109.67 L97.80,109.50 L95.00,109.42 L92.43,109.41 L90.05,109.47 L87.84,109.59 L85.76,109.77 L83.78,109.98 L81.87,110.23 L80.00,110.50 L78.23,110.80 L76.62,111.14 L75.12,111.52 L73.70,111.94 L72.32,112.39 L70.93,112.89 L69.51,113.43 L68.00,114.00 L66.42,114.62 L64.80,115.28 L63.15,115.98 L61.50,116.72 L59.85,117.49 L58.20,118.30 L56.58,119.14 L55.00,120.00 L53.37,120.96 L51.65,122.05 L49.90,123.21 L48.19,124.38 L46.58,125.50 L45.13,126.52 L43.92,127.37 L43.00,128.00 Z"/></clipPath>
<path d="M-202.50,237.5L17.50,17.5M-195.50,237.5L24.50,17.5M-188.50,237.5L31.50,17.5M-181.50,237.5L38.50,17.5M-174.50,237.5L45.50,17.5M-167.50,237.5L52.50,17.5M-160.50,237.5L59.50,17.5M-153.50,237.5L66.50,17.5M-146.50,237.5L73.50,17.5M-139.50,237.5L80.50,17.5M-132.50,237.5L87.50,17.5M-125.50,237.5L94.50,17.5M-118.50,237.5L101.50,17.5M-111.50,237.5L108.50,17.5M-104.50,237.5L115.50,17.5M-97.50,237.5L122.50,17.5M-90.50,237.5L129.50,17.5M-83.50,237.5L136.50,17.5M-76.50,237.5L143.50,17.5M-69.50,237.5L150.50,17.5M-62.50,237.5L157.50,17.5M-55.50,237.5L164.50,17.5M-48.50,237.5L171.50,17.5M-41.50,237.5L178.50,17.5M-34.50,237.5L185.50,17.5M-27.50,237.5L192.50,17.5M-20.50,237.5L199.50,17.5M-13.50,237.5L206.50,17.5M-6.50,237.5L213.50,17.5M0.50,237.5L220.50,17.5M7.50,237.5L227.50,17.5M14.50,237.5L234.50,17.5M21.50,237.5L241.50,17.5M28.50,237.5L248.50,17.5M35.50,237.5L255.50,17.5M42.50,237.5L262.50,17.5M49.50,237.5L269.50,17.5M56.50,237.5L276.50,17.5M63.50,237.5L283.50,17.5M70.50,237.5L290.50,17.5M77.50,237.5L297.50,17.5M84.50,237.5L304.50,17.5M91.50,237.5L311.50,17.5M98.50,237.5L318.50,17.5M105.50,237.5L325.50,17.5M112.50,237.5L332.50,17.5M119.50,237.5L339.50,17.5M126.50,237.5L346.50,17.5M133.50,237.5L353.50,17.5M140.50,237.5L360.50,17.5M147.50,237.5L367.50,17.5M154.50,237.5L374.50,17.5M161.50,237.5L381.50,17.5M168.50,237.5L388.50,17.5M175.50,237.5L395.50,17.5M182.50,237.5L402.50,17.5M189.50,237.5L409.50,17.5M196.50,237.5L416.50,17.5M203.50,237.5L423.50,17.5M210.50,237.5L430.50,17.5M217.50,237.5L437.50,17.5M224.50,237.5L444.50,17.5M231.50,237.5L451.50,17.5M238.50,237.5L458.50,17.5M245.50,237.5L465.50,17.5M252.50,237.5L472.50,17.5M259.50,237.5L479.50,17.5M266.50,237.5L486.50,17.5M273.50,237.5L493.50,17.5M280.50,237.5L500.50,17.5M287.50,237.5L507.50,17.5M294.50,237.5L514.50,17.5M301.50,237.5L521.50,17.5M308.50,237.5L528.50,17.5M315.50,237.5L535.50,17.5M322.50,237.5L542.50,17.5M329.50,237.5L549.50,17.5M336.50,237.5L556.50,17.5M343.50,237.5L563.50,17.5M350.50,237.5L570.50,17.5M357.50,237.5L577.50,17.5M364.50,237.5L584.50,17.5M371.50,237.5L591.50,17.5M378.50,237.5L598.50,17.5M385.50,237.5L605.50,17.5M392.50,237.5L612.50,17.5M399.50,237.5L619.50,17.5M406.50,237.5L626.50,17.5" clip-path="url(#clg)" stroke="#5cbc4f" stroke-width="1.15" shape-rendering="auto" fill="none"/>
<path d="M43.00,23.00 L43.38,23.54 L43.89,24.27 L44.49,25.13 L45.16,26.09 L45.88,27.10 L46.60,28.12 L47.32,29.10 L48.00,30.00 L48.66,30.83 L49.33,31.65 L50.01,32.45 L50.69,33.25 L51.38,34.05 L52.06,34.85 L52.74,35.67 L53.40,36.50 L54.05,37.35 L54.69,38.23 L55.33,39.11 L55.96,40.00 L56.59,40.89 L57.23,41.77 L57.86,42.65 L58.50,43.50 L59.14,44.34 L59.79,45.16 L60.44,45.97 L61.09,46.78 L61.74,47.58 L62.39,48.39 L63.04,49.19 L63.70,50.00 L64.35,50.81 L64.99,51.63 L65.62,52.45 L66.26,53.26 L66.91,54.08 L67.57,54.89 L68.27,55.70 L69.00,56.50 L69.78,57.31 L70.60,58.12 L71.45,58.93 L72.32,59.74 L73.20,60.54 L74.06,61.32 L74.90,62.08 L75.70,62.80 L76.46,63.49 L77.20,64.14 L77.91,64.77 L78.61,65.38 L79.31,65.98 L80.00,66.58 L80.69,67.18 L81.40,67.80 L82.11,68.43 L82.83,69.05 L83.54,69.68 L84.25,70.31 L84.96,70.94 L85.68,71.56 L86.39,72.18 L87.10,72.80 L87.81,73.41 L88.52,74.02 L89.24,74.62 L89.95,75.22 L90.66,75.82 L91.37,76.42 L92.09,77.01 L92.80,77.60 L93.51,78.19 L94.21,78.78 L94.90,79.36 L95.60,79.94 L96.30,80.52 L97.02,81.09 L97.75,81.65 L98.50,82.20 L99.27,82.74 L100.05,83.28 L100.84,83.81 L101.65,84.33 L102.47,84.84 L103.30,85.34 L104.14,85.83 L105.00,86.30 L105.87,86.75 L106.76,87.18 L107.67,87.60 L108.59,88.01 L109.51,88.40 L110.44,88.80 L111.37,89.20 L112.30,89.60 L113.23,90.00 L114.17,90.41 L115.12,90.81 L116.07,91.21 L117.02,91.60 L117.96,92.00 L118.89,92.40 L119.80,92.80 L120.66,93.17 L121.44,93.50 L122.19,93.82 L122.94,94.14 L123.74,94.50 L124.63,94.91 L125.63,95.40 L126.80,96.00 L128.14,96.73 L129.61,97.58 L131.19,98.52 L132.86,99.51 L134.59,100.51 L136.38,101.51 L138.19,102.45 L140.00,103.30 L141.77,104.05 L143.50,104.72 L145.24,105.34 L147.04,105.95 L148.93,106.57 L150.98,107.23 L153.22,107.96 L155.70,108.80 L158.45,109.77 L161.45,110.86 L164.64,112.02 L167.97,113.23 L171.42,114.44 L174.91,115.61 L178.42,116.71 L181.90,117.70 L185.38,118.59 L188.93,119.44 L192.54,120.23 L196.18,120.98 L199.84,121.67 L203.50,122.33 L207.16,122.93 L210.80,123.50 L214.41,124.01 L217.99,124.46 L221.57,124.87 L225.16,125.22 L228.76,125.55 L232.39,125.85 L236.07,126.13 L239.80,126.40 L243.68,126.67 L247.73,126.92 L251.88,127.15 L256.03,127.36 L260.10,127.54 L264.01,127.68 L267.67,127.76 L271.00,127.80 L273.99,127.80 L276.70,127.76 L279.19,127.69 L281.51,127.58 L283.70,127.41 L285.82,127.18 L287.90,126.88 L290.00,126.50 L292.07,126.04 L294.03,125.50 L295.92,124.89 L297.75,124.22 L299.55,123.49 L301.34,122.71 L303.15,121.87 L305.00,121.00 L306.92,120.04 L308.89,118.96 L310.89,117.81 L312.88,116.61 L314.81,115.42 L316.67,114.26 L318.41,113.17 L320.00,112.20 L321.41,111.32 L322.67,110.51 L323.81,109.74 L324.88,109.02 L325.89,108.34 L326.89,107.70 L327.92,107.09 L329.00,106.50 L330.12,105.95 L331.25,105.44 L332.38,104.97 L333.50,104.53 L334.62,104.12 L335.75,103.73 L336.88,103.36 L338.00,103.00 L339.14,102.69 L340.30,102.44 L341.46,102.24 L342.62,102.04 L343.77,101.83 L344.89,101.57 L345.97,101.24 L347.00,100.80 L348.00,100.28 L349.00,99.72 L349.97,99.12 L350.91,98.45 L351.79,97.71 L352.61,96.90 L353.35,96.00 L354.00,95.00 L354.54,93.89 L354.97,92.69 L355.32,91.39 L355.61,90.01 L355.86,88.57 L356.07,87.08 L356.28,85.55 L356.50,84.00 L356.71,82.65 L356.90,81.58 L357.06,80.60 L357.21,79.50 L357.34,78.09 L357.46,76.17 L357.58,73.54 L357.70,70.00 L357.82,65.05 L357.95,58.66 L358.06,51.34 L358.17,43.62 L358.28,36.02 L358.37,29.03 L358.44,23.19 L358.50,19.00 L372.00,19.00 L373.00,35.00 L376.00,45.00 L378.00,60.00 L379.00,100.00 L379.30,150.00 L379.50,235.50 L347.00,235.50 L346.77,234.28 L346.46,232.66 L346.09,230.72 L345.68,228.57 L345.26,226.31 L344.84,224.03 L344.44,221.83 L344.10,219.80 L343.80,217.91 L343.52,216.04 L343.26,214.19 L343.01,212.36 L342.77,210.53 L342.52,208.69 L342.27,206.85 L342.00,205.00 L341.72,203.13 L341.43,201.26 L341.13,199.39 L340.82,197.51 L340.53,195.63 L340.24,193.75 L339.96,191.88 L339.70,190.00 L339.46,188.09 L339.22,186.13 L339.00,184.16 L338.78,182.19 L338.57,180.26 L338.38,178.40 L338.18,176.64 L338.00,175.00 L337.83,173.49 L337.69,172.08 L337.56,170.76 L337.43,169.51 L337.30,168.33 L337.16,167.19 L336.99,166.08 L336.80,165.00 L336.58,163.96 L336.35,162.99 L336.11,162.08 L335.84,161.20 L335.56,160.35 L335.26,159.51 L334.94,158.66 L334.60,157.80 L334.23,156.92 L333.84,156.05 L333.43,155.17 L332.99,154.31 L332.54,153.45 L332.08,152.61 L331.59,151.79 L331.10,151.00 L330.59,150.22 L330.05,149.45 L329.49,148.69 L328.92,147.94 L328.34,147.23 L327.76,146.54 L327.17,145.90 L326.60,145.30 L326.09,144.76 L325.65,144.27 L325.24,143.82 L324.81,143.40 L324.32,143.00 L323.72,142.61 L322.96,142.21 L322.00,141.80 L320.81,141.37 L319.43,140.92 L317.90,140.47 L316.26,140.03 L314.54,139.60 L312.78,139.19 L311.02,138.83 L309.30,138.50 L307.66,138.22 L306.06,137.99 L304.48,137.78 L302.86,137.61 L301.14,137.45 L299.29,137.30 L297.26,137.15 L295.00,137.00 L292.51,136.86 L289.85,136.73 L287.03,136.62 L284.06,136.52 L280.95,136.41 L277.73,136.29 L274.41,136.16 L271.00,136.00 L267.43,135.82 L263.65,135.65 L259.73,135.46 L255.71,135.26 L251.66,135.03 L247.61,134.79 L243.64,134.51 L239.80,134.20 L236.07,133.86 L232.39,133.50 L228.76,133.11 L225.16,132.69 L221.57,132.25 L217.99,131.77 L214.41,131.25 L210.80,130.70 L207.16,130.10 L203.50,129.46 L199.84,128.78 L196.18,128.07 L192.54,127.33 L188.93,126.57 L185.38,125.79 L181.90,125.00 L178.51,124.18 L175.22,123.31 L172.00,122.40 L168.80,121.49 L165.60,120.57 L162.38,119.68 L159.09,118.81 L155.70,118.00 L152.22,117.22 L148.67,116.46 L145.06,115.72 L141.42,115.00 L137.76,114.31 L134.10,113.66 L130.44,113.06 L126.80,112.50 L123.10,111.98 L119.29,111.48 L115.44,111.02 L111.61,110.59 L107.86,110.22 L104.26,109.91 L100.89,109.67 L97.80,109.50 L95.00,109.42 L92.43,109.41 L90.05,109.47 L87.84,109.59 L85.76,109.77 L83.78,109.98 L81.87,110.23 L80.00,110.50 L78.23,110.80 L76.62,111.14 L75.12,111.52 L73.70,111.94 L72.32,112.39 L70.93,112.89 L69.51,113.43 L68.00,114.00 L66.42,114.62 L64.80,115.28 L63.15,115.98 L61.50,116.72 L59.85,117.49 L58.20,118.30 L56.58,119.14 L55.00,120.00 L53.37,120.96 L51.65,122.05 L49.90,123.21 L48.19,124.38 L46.58,125.50 L45.13,126.52 L43.92,127.37 L43.00,128.00 Z" fill="none" stroke="#bfe9b3" stroke-width="0.6" stroke-opacity="0.6"/>
<line x1="43.2" y1="126.9" x2="380.40000000000003" y2="126.9" stroke="#3f7fd6" stroke-width="1.4" stroke-dasharray="3.8 3.2"/>
<path d="M43.00,193.50 L45.13,193.06 L48.09,192.45 L51.63,191.73 L55.49,190.94 L59.41,190.12 L63.13,189.33 L66.38,188.61 L68.90,188.00 L70.60,187.52 L71.70,187.14 L72.37,186.81 L72.82,186.51 L73.23,186.21 L73.81,185.88 L74.73,185.49 L76.20,185.00 L78.27,184.41 L80.77,183.76 L83.58,183.04 L86.57,182.29 L89.61,181.53 L92.59,180.76 L95.36,180.01 L97.80,179.30 L99.92,178.61 L101.86,177.94 L103.64,177.26 L105.33,176.59 L106.96,175.93 L108.58,175.28 L110.25,174.64 L112.00,174.00 L113.72,173.40 L115.33,172.84 L116.89,172.31 L118.48,171.78 L120.19,171.23 L122.09,170.63 L124.27,169.96 L126.80,169.20 L129.76,168.34 L133.10,167.41 L136.72,166.42 L140.54,165.38 L144.44,164.30 L148.33,163.20 L152.12,162.10 L155.70,161.00 L159.09,159.88 L162.38,158.70 L165.60,157.50 L168.80,156.29 L172.00,155.09 L175.22,153.93 L178.51,152.82 L181.90,151.80 L185.38,150.87 L188.93,150.01 L192.54,149.20 L196.18,148.44 L199.84,147.69 L203.50,146.95 L207.16,146.19 L210.80,145.40 L214.41,144.58 L217.99,143.75 L221.57,142.90 L225.16,142.06 L228.76,141.23 L232.39,140.40 L236.07,139.59 L239.80,138.80 L243.64,138.03 L247.62,137.28 L251.66,136.54 L255.72,135.81 L259.74,135.10 L263.66,134.39 L267.43,133.69 L271.00,133.00 L274.40,132.32 L277.71,131.64 L280.91,130.97 L283.99,130.31 L286.95,129.66 L289.76,129.02 L292.41,128.40 L294.90,127.80 L297.19,127.20 L299.28,126.61 L301.20,126.02 L302.98,125.46 L304.66,124.91 L306.27,124.40 L307.84,123.93 L309.40,123.50 L310.94,123.13 L312.41,122.83 L313.83,122.56 L315.18,122.33 L316.47,122.11 L317.71,121.89 L318.88,121.66 L320.00,121.40 L321.03,121.10 L321.96,120.76 L322.82,120.40 L323.63,120.05 L324.41,119.72 L325.18,119.44 L325.97,119.23 L326.80,119.10 L327.67,119.05 L328.57,119.05 L329.48,119.11 L330.39,119.22 L331.28,119.38 L332.13,119.60 L332.95,119.87 L333.70,120.20 L334.39,120.62 L335.01,121.13 L335.60,121.72 L336.15,122.36 L336.68,123.01 L337.21,123.65 L337.75,124.26 L338.30,124.80 L338.88,125.31 L339.46,125.84 L340.05,126.37 L340.64,126.86 L341.21,127.31 L341.77,127.70 L342.30,128.00 L342.80,128.20 L343.26,128.28 L343.68,128.25 L344.07,128.13 L344.45,127.95 L344.82,127.73 L345.20,127.48 L345.58,127.23 L346.00,127.00 L346.45,126.82 L346.92,126.68 L347.41,126.55 L347.91,126.39 L348.39,126.17 L348.86,125.86 L349.30,125.41 L349.70,124.80 L350.06,123.98 L350.40,122.96 L350.72,121.80 L351.01,120.54 L351.29,119.25 L351.54,117.98 L351.78,116.78 L352.00,115.70 L352.19,114.79 L352.36,114.03 L352.50,113.35 L352.63,112.68 L352.74,111.96 L352.85,111.11 L352.97,110.08 L353.10,108.80 L353.23,107.28 L353.35,105.60 L353.46,103.77 L353.58,101.79 L353.70,99.70 L353.84,97.49 L354.01,95.19 L354.20,92.80 L354.43,90.32 L354.70,87.75 L354.99,85.06 L355.29,82.27 L355.61,79.38 L355.92,76.37 L356.22,73.24 L356.50,70.00 L356.77,66.59 L357.04,63.01 L357.31,59.28 L357.57,55.45 L357.82,51.57 L358.06,47.67 L358.29,43.80 L358.50,40.00 L358.70,36.04 L358.88,31.80 L359.06,27.43 L359.23,23.12 L359.37,19.05 L359.50,15.39 L359.61,12.31 L359.70,10.00" fill="none" stroke="#e8661e" stroke-width="1.35" stroke-dasharray="6 4"/>
<path d="M43.00,76.30 L44.38,77.07 L46.21,78.13 L48.39,79.39 L50.81,80.77 L53.39,82.21 L56.01,83.61 L58.58,84.90 L61.00,86.00 L63.31,86.91 L65.61,87.71 L67.92,88.43 L70.25,89.11 L72.61,89.77 L75.02,90.45 L77.47,91.18 L80.00,92.00 L82.64,92.93 L85.39,93.95 L88.21,95.03 L91.08,96.12 L93.93,97.21 L96.73,98.23 L99.43,99.18 L102.00,100.00 L104.41,100.67 L106.69,101.22 L108.88,101.68 L111.01,102.09 L113.13,102.49 L115.28,102.92 L117.49,103.41 L119.80,104.00 L122.24,104.71 L124.79,105.51 L127.40,106.36 L130.03,107.24 L132.65,108.13 L135.21,108.99 L137.67,109.79 L140.00,110.50 L142.11,111.11 L144.00,111.65 L145.76,112.13 L147.47,112.58 L149.24,113.03 L151.14,113.50 L153.27,114.01 L155.70,114.60 L158.45,115.25 L161.45,115.94 L164.64,116.66 L167.97,117.41 L171.42,118.18 L174.91,118.97 L178.42,119.78 L181.90,120.60 L185.38,121.47 L188.93,122.40 L192.54,123.36 L196.18,124.34 L199.84,125.30 L203.50,126.21 L207.16,127.05 L210.80,127.80 L214.41,128.46 L217.99,129.06 L221.57,129.61 L225.16,130.10 L228.76,130.54 L232.39,130.94 L236.07,131.29 L239.80,131.60 L243.68,131.86 L247.73,132.06 L251.88,132.22 L256.03,132.32 L260.10,132.39 L264.01,132.42 L267.67,132.43 L271.00,132.40 L274.02,132.33 L276.82,132.19 L279.41,132.01 L281.82,131.80 L284.07,131.58 L286.17,131.36 L288.14,131.16 L290.00,131.00 L291.68,130.88 L293.14,130.78 L294.43,130.69 L295.59,130.61 L296.68,130.53 L297.75,130.44 L298.84,130.33 L300.00,130.20 L301.21,130.03 L302.41,129.84 L303.60,129.62 L304.78,129.40 L305.96,129.18 L307.14,128.96 L308.32,128.77 L309.50,128.60 L310.70,128.45 L311.92,128.29 L313.15,128.14 L314.37,128.01 L315.58,127.90 L316.76,127.83 L317.90,127.79 L319.00,127.80 L320.06,127.86 L321.10,127.97 L322.11,128.11 L323.09,128.29 L324.03,128.49 L324.93,128.71 L325.79,128.95 L326.60,129.20 L327.35,129.46 L328.06,129.75 L328.71,130.06 L329.33,130.39 L329.91,130.73 L330.46,131.08 L330.99,131.44 L331.50,131.80 L331.97,132.12 L332.39,132.39 L332.78,132.64 L333.14,132.92 L333.49,133.25 L333.85,133.69 L334.21,134.26 L334.60,135.00 L335.01,135.96 L335.44,137.10 L335.88,138.40 L336.32,139.78 L336.76,141.21 L337.19,142.64 L337.60,144.02 L338.00,145.30 L338.38,146.48 L338.74,147.62 L339.09,148.73 L339.43,149.83 L339.77,150.93 L340.11,152.05 L340.45,153.20 L340.80,154.40 L341.16,155.64 L341.52,156.89 L341.88,158.16 L342.25,159.46 L342.62,160.78 L342.98,162.15 L343.34,163.55 L343.70,165.00 L344.05,166.52 L344.40,168.10 L344.75,169.74 L345.09,171.41 L345.44,173.09 L345.79,174.76 L346.14,176.41 L346.50,178.00 L346.87,179.57 L347.24,181.15 L347.61,182.73 L347.99,184.28 L348.37,185.80 L348.75,187.27 L349.12,188.67 L349.50,190.00 L349.87,191.27 L350.25,192.50 L350.62,193.68 L350.99,194.81 L351.37,195.86 L351.74,196.84 L352.12,197.72 L352.50,198.50 L352.88,199.21 L353.25,199.86 L353.62,200.44 L353.99,200.93 L354.37,201.31 L354.76,201.56 L355.17,201.67 L355.60,201.60 L356.07,201.40 L356.57,201.10 L357.10,200.67 L357.64,200.10 L358.18,199.37 L358.69,198.45 L359.17,197.34 L359.60,196.00 L359.98,194.47 L360.34,192.79 L360.67,190.93 L360.98,188.88 L361.26,186.61 L361.52,184.11 L361.77,181.34 L362.00,178.30 L362.22,174.90 L362.41,171.11 L362.59,167.03 L362.75,162.73 L362.89,158.30 L363.01,153.81 L363.12,149.35 L363.20,145.00 L363.26,140.81 L363.28,136.72 L363.29,132.66 L363.27,128.54 L363.25,124.30 L363.23,119.84 L363.21,115.10 L363.20,110.00 L363.20,104.47 L363.20,98.55 L363.20,92.35 L363.20,85.94 L363.20,79.41 L363.20,72.85 L363.20,66.35 L363.20,60.00 L363.20,53.41 L363.20,46.33 L363.20,39.05 L363.20,31.88 L363.20,25.09 L363.20,18.98 L363.20,13.86 L363.20,10.00" fill="none" stroke="#4cc62c" stroke-width="1.7"/>
<path d="M371.20,10.00 L371.20,250.00" fill="none" stroke="#4cc62c" stroke-width="1.7"/>
</g>
<clipPath id="cr"><rect x="444.9" y="19.5" width="339.6" height="216.0"/></clipPath>
<g stroke="#ebebeb" stroke-width="1"><line x1="444.90" y1="19.5" x2="444.90" y2="235.5"/>
<line x1="501.50" y1="19.5" x2="501.50" y2="235.5"/>
<line x1="558.10" y1="19.5" x2="558.10" y2="235.5"/>
<line x1="614.70" y1="19.5" x2="614.70" y2="235.5"/>
<line x1="671.30" y1="19.5" x2="671.30" y2="235.5"/>
<line x1="727.90" y1="19.5" x2="727.90" y2="235.5"/>
<line x1="784.50" y1="19.5" x2="784.50" y2="235.5"/>
<line x1="444.9" y1="19.50" x2="784.5" y2="19.50"/>
<line x1="444.9" y1="55.50" x2="784.5" y2="55.50"/>
<line x1="444.9" y1="91.50" x2="784.5" y2="91.50"/>
<line x1="444.9" y1="127.50" x2="784.5" y2="127.50"/>
<line x1="444.9" y1="163.50" x2="784.5" y2="163.50"/>
<line x1="444.9" y1="199.50" x2="784.5" y2="199.50"/>
<line x1="444.9" y1="235.50" x2="784.5" y2="235.50"/></g>
<g clip-path="url(#cr)">
<path d="M444.90,60.00 L445.68,60.57 L446.72,61.31 L447.95,62.20 L449.32,63.19 L450.78,64.25 L452.25,65.34 L453.67,66.44 L455.00,67.50 L456.25,68.53 L457.51,69.57 L458.76,70.63 L460.01,71.72 L461.25,72.84 L462.50,74.00 L463.75,75.22 L465.00,76.50 L466.26,77.90 L467.55,79.43 L468.84,81.04 L470.12,82.69 L471.40,84.31 L472.64,85.85 L473.85,87.27 L475.00,88.50 L476.09,89.54 L477.12,90.42 L478.10,91.19 L479.06,91.88 L480.01,92.51 L480.98,93.14 L481.97,93.79 L483.00,94.50 L484.05,95.24 L485.09,95.95 L486.13,96.66 L487.19,97.38 L488.29,98.10 L489.45,98.86 L490.68,99.65 L492.00,100.50 L493.46,101.42 L495.06,102.42 L496.76,103.46 L498.50,104.53 L500.24,105.60 L501.94,106.63 L503.54,107.61 L505.00,108.50 L506.31,109.32 L507.50,110.10 L508.62,110.83 L509.68,111.53 L510.71,112.19 L511.76,112.82 L512.84,113.43 L514.00,114.00 L515.05,114.54 L515.90,115.03 L516.68,115.49 L517.52,115.92 L518.56,116.33 L519.93,116.72 L521.76,117.11 L524.20,117.50 L527.35,117.89 L531.15,118.26 L535.42,118.62 L540.02,118.98 L544.78,119.32 L549.56,119.65 L554.18,119.98 L558.50,120.30 L562.43,120.62 L566.10,120.94 L569.63,121.26 L573.16,121.57 L576.82,121.86 L580.76,122.14 L585.11,122.38 L590.00,122.60 L595.64,122.78 L602.01,122.93 L608.84,123.06 L615.92,123.16 L622.99,123.25 L629.82,123.34 L636.17,123.42 L641.80,123.50 L646.58,123.58 L650.68,123.65 L654.31,123.72 L657.70,123.78 L661.05,123.83 L664.57,123.88 L668.48,123.94 L673.00,124.00 L678.24,124.07 L684.04,124.15 L690.21,124.23 L696.58,124.31 L702.93,124.39 L709.07,124.45 L714.83,124.49 L720.00,124.50 L724.70,124.52 L729.16,124.55 L733.37,124.58 L737.31,124.59 L740.96,124.56 L744.30,124.46 L747.32,124.28 L750.00,124.00 L752.23,123.65 L753.98,123.25 L755.35,122.81 L756.44,122.28 L757.35,121.66 L758.18,120.92 L759.03,120.04 L760.00,119.00 L761.03,117.81 L762.01,116.50 L762.93,115.06 L763.81,113.50 L764.65,111.81 L765.46,110.00 L766.24,108.06 L767.00,106.00 L767.73,103.79 L768.44,101.41 L769.11,98.89 L769.75,96.25 L770.36,93.52 L770.94,90.72 L771.48,87.87 L772.00,85.00 L772.48,82.07 L772.93,79.03 L773.34,75.92 L773.72,72.75 L774.07,69.55 L774.40,66.34 L774.71,63.15 L775.00,60.00 L775.27,56.81 L775.50,53.54 L775.72,50.23 L775.91,46.94 L776.08,43.72 L776.23,40.62 L776.37,37.69 L776.50,35.00 L776.61,32.46 L776.71,29.99 L776.78,27.64 L776.84,25.44 L776.89,23.43 L776.93,21.66 L776.97,20.17 L777.00,19.00 L780.30,19.00 L780.30,235.50 L776.00,235.50 L775.71,229.30 L775.35,220.63 L774.92,210.28 L774.44,199.00 L773.90,187.57 L773.30,176.74 L772.67,167.30 L772.00,160.00 L771.29,154.73 L770.54,150.71 L769.74,147.71 L768.89,145.50 L767.99,143.85 L767.05,142.54 L766.05,141.33 L765.00,140.00 L764.05,138.77 L763.25,137.95 L762.49,137.46 L761.64,137.19 L760.57,137.05 L759.15,136.95 L757.27,136.80 L754.80,136.50 L751.71,136.09 L748.12,135.69 L744.09,135.29 L739.70,134.91 L735.02,134.53 L730.13,134.17 L725.10,133.82 L720.00,133.50 L714.60,133.19 L708.74,132.90 L702.57,132.62 L696.27,132.36 L690.00,132.12 L683.93,131.89 L678.20,131.69 L673.00,131.50 L668.53,131.32 L664.71,131.13 L661.32,130.95 L658.08,130.80 L654.76,130.68 L651.11,130.62 L646.87,130.62 L641.80,130.70 L635.64,130.89 L628.52,131.20 L620.77,131.58 L612.71,132.01 L604.66,132.45 L596.96,132.86 L589.93,133.23 L583.90,133.50 L578.94,133.66 L574.78,133.73 L571.21,133.74 L568.02,133.72 L565.01,133.73 L561.97,133.79 L558.71,133.93 L555.00,134.20 L550.81,134.60 L546.33,135.08 L541.66,135.65 L536.94,136.27 L532.29,136.93 L527.84,137.62 L523.70,138.31 L520.00,139.00 L516.73,139.69 L513.78,140.39 L511.09,141.12 L508.62,141.86 L506.33,142.62 L504.16,143.40 L502.06,144.19 L500.00,145.00 L498.03,145.77 L496.22,146.49 L494.55,147.20 L492.97,147.94 L491.46,148.75 L489.98,149.66 L488.51,150.74 L487.00,152.00 L485.52,153.47 L484.11,155.12 L482.75,156.91 L481.41,158.81 L480.04,160.80 L478.62,162.85 L477.12,164.93 L475.50,167.00 L473.75,169.11 L471.90,171.29 L469.96,173.53 L467.97,175.81 L465.96,178.12 L463.94,180.43 L461.95,182.73 L460.00,185.00 L457.99,187.37 L455.84,189.92 L453.64,192.54 L451.48,195.12 L449.44,197.57 L447.60,199.77 L446.06,201.61 L444.90,203.00 Z" fill="#5b9be0" fill-opacity="0.09" stroke="none"/>
<clipPath id="crb"><path d="M444.90,60.00 L445.68,60.57 L446.72,61.31 L447.95,62.20 L449.32,63.19 L450.78,64.25 L452.25,65.34 L453.67,66.44 L455.00,67.50 L456.25,68.53 L457.51,69.57 L458.76,70.63 L460.01,71.72 L461.25,72.84 L462.50,74.00 L463.75,75.22 L465.00,76.50 L466.26,77.90 L467.55,79.43 L468.84,81.04 L470.12,82.69 L471.40,84.31 L472.64,85.85 L473.85,87.27 L475.00,88.50 L476.09,89.54 L477.12,90.42 L478.10,91.19 L479.06,91.88 L480.01,92.51 L480.98,93.14 L481.97,93.79 L483.00,94.50 L484.05,95.24 L485.09,95.95 L486.13,96.66 L487.19,97.38 L488.29,98.10 L489.45,98.86 L490.68,99.65 L492.00,100.50 L493.46,101.42 L495.06,102.42 L496.76,103.46 L498.50,104.53 L500.24,105.60 L501.94,106.63 L503.54,107.61 L505.00,108.50 L506.31,109.32 L507.50,110.10 L508.62,110.83 L509.68,111.53 L510.71,112.19 L511.76,112.82 L512.84,113.43 L514.00,114.00 L515.05,114.54 L515.90,115.03 L516.68,115.49 L517.52,115.92 L518.56,116.33 L519.93,116.72 L521.76,117.11 L524.20,117.50 L527.35,117.89 L531.15,118.26 L535.42,118.62 L540.02,118.98 L544.78,119.32 L549.56,119.65 L554.18,119.98 L558.50,120.30 L562.43,120.62 L566.10,120.94 L569.63,121.26 L573.16,121.57 L576.82,121.86 L580.76,122.14 L585.11,122.38 L590.00,122.60 L595.64,122.78 L602.01,122.93 L608.84,123.06 L615.92,123.16 L622.99,123.25 L629.82,123.34 L636.17,123.42 L641.80,123.50 L646.58,123.58 L650.68,123.65 L654.31,123.72 L657.70,123.78 L661.05,123.83 L664.57,123.88 L668.48,123.94 L673.00,124.00 L678.24,124.07 L684.04,124.15 L690.21,124.23 L696.58,124.31 L702.93,124.39 L709.07,124.45 L714.83,124.49 L720.00,124.50 L724.70,124.52 L729.16,124.55 L733.37,124.58 L737.31,124.59 L740.96,124.56 L744.30,124.46 L747.32,124.28 L750.00,124.00 L752.23,123.65 L753.98,123.25 L755.35,122.81 L756.44,122.28 L757.35,121.66 L758.18,120.92 L759.03,120.04 L760.00,119.00 L761.03,117.81 L762.01,116.50 L762.93,115.06 L763.81,113.50 L764.65,111.81 L765.46,110.00 L766.24,108.06 L767.00,106.00 L767.73,103.79 L768.44,101.41 L769.11,98.89 L769.75,96.25 L770.36,93.52 L770.94,90.72 L771.48,87.87 L772.00,85.00 L772.48,82.07 L772.93,79.03 L773.34,75.92 L773.72,72.75 L774.07,69.55 L774.40,66.34 L774.71,63.15 L775.00,60.00 L775.27,56.81 L775.50,53.54 L775.72,50.23 L775.91,46.94 L776.08,43.72 L776.23,40.62 L776.37,37.69 L776.50,35.00 L776.61,32.46 L776.71,29.99 L776.78,27.64 L776.84,25.44 L776.89,23.43 L776.93,21.66 L776.97,20.17 L777.00,19.00 L780.30,19.00 L780.30,235.50 L776.00,235.50 L775.71,229.30 L775.35,220.63 L774.92,210.28 L774.44,199.00 L773.90,187.57 L773.30,176.74 L772.67,167.30 L772.00,160.00 L771.29,154.73 L770.54,150.71 L769.74,147.71 L768.89,145.50 L767.99,143.85 L767.05,142.54 L766.05,141.33 L765.00,140.00 L764.05,138.77 L763.25,137.95 L762.49,137.46 L761.64,137.19 L760.57,137.05 L759.15,136.95 L757.27,136.80 L754.80,136.50 L751.71,136.09 L748.12,135.69 L744.09,135.29 L739.70,134.91 L735.02,134.53 L730.13,134.17 L725.10,133.82 L720.00,133.50 L714.60,133.19 L708.74,132.90 L702.57,132.62 L696.27,132.36 L690.00,132.12 L683.93,131.89 L678.20,131.69 L673.00,131.50 L668.53,131.32 L664.71,131.13 L661.32,130.95 L658.08,130.80 L654.76,130.68 L651.11,130.62 L646.87,130.62 L641.80,130.70 L635.64,130.89 L628.52,131.20 L620.77,131.58 L612.71,132.01 L604.66,132.45 L596.96,132.86 L589.93,133.23 L583.90,133.50 L578.94,133.66 L574.78,133.73 L571.21,133.74 L568.02,133.72 L565.01,133.73 L561.97,133.79 L558.71,133.93 L555.00,134.20 L550.81,134.60 L546.33,135.08 L541.66,135.65 L536.94,136.27 L532.29,136.93 L527.84,137.62 L523.70,138.31 L520.00,139.00 L516.73,139.69 L513.78,140.39 L511.09,141.12 L508.62,141.86 L506.33,142.62 L504.16,143.40 L502.06,144.19 L500.00,145.00 L498.03,145.77 L496.22,146.49 L494.55,147.20 L492.97,147.94 L491.46,148.75 L489.98,149.66 L488.51,150.74 L487.00,152.00 L485.52,153.47 L484.11,155.12 L482.75,156.91 L481.41,158.81 L480.04,160.80 L478.62,162.85 L477.12,164.93 L475.50,167.00 L473.75,169.11 L471.90,171.29 L469.96,173.53 L467.97,175.81 L465.96,178.12 L463.94,180.43 L461.95,182.73 L460.00,185.00 L457.99,187.37 L455.84,189.92 L453.64,192.54 L451.48,195.12 L449.44,197.57 L447.60,199.77 L446.06,201.61 L444.90,203.00 Z"/></clipPath>
<path d="M203.50,17.5L423.50,237.5M210.50,17.5L430.50,237.5M217.50,17.5L437.50,237.5M224.50,17.5L444.50,237.5M231.50,17.5L451.50,237.5M238.50,17.5L458.50,237.5M245.50,17.5L465.50,237.5M252.50,17.5L472.50,237.5M259.50,17.5L479.50,237.5M266.50,17.5L486.50,237.5M273.50,17.5L493.50,237.5M280.50,17.5L500.50,237.5M287.50,17.5L507.50,237.5M294.50,17.5L514.50,237.5M301.50,17.5L521.50,237.5M308.50,17.5L528.50,237.5M315.50,17.5L535.50,237.5M322.50,17.5L542.50,237.5M329.50,17.5L549.50,237.5M336.50,17.5L556.50,237.5M343.50,17.5L563.50,237.5M350.50,17.5L570.50,237.5M357.50,17.5L577.50,237.5M364.50,17.5L584.50,237.5M371.50,17.5L591.50,237.5M378.50,17.5L598.50,237.5M385.50,17.5L605.50,237.5M392.50,17.5L612.50,237.5M399.50,17.5L619.50,237.5M406.50,17.5L626.50,237.5M413.50,17.5L633.50,237.5M420.50,17.5L640.50,237.5M427.50,17.5L647.50,237.5M434.50,17.5L654.50,237.5M441.50,17.5L661.50,237.5M448.50,17.5L668.50,237.5M455.50,17.5L675.50,237.5M462.50,17.5L682.50,237.5M469.50,17.5L689.50,237.5M476.50,17.5L696.50,237.5M483.50,17.5L703.50,237.5M490.50,17.5L710.50,237.5M497.50,17.5L717.50,237.5M504.50,17.5L724.50,237.5M511.50,17.5L731.50,237.5M518.50,17.5L738.50,237.5M525.50,17.5L745.50,237.5M532.50,17.5L752.50,237.5M539.50,17.5L759.50,237.5M546.50,17.5L766.50,237.5M553.50,17.5L773.50,237.5M560.50,17.5L780.50,237.5M567.50,17.5L787.50,237.5M574.50,17.5L794.50,237.5M581.50,17.5L801.50,237.5M588.50,17.5L808.50,237.5M595.50,17.5L815.50,237.5M602.50,17.5L822.50,237.5M609.50,17.5L829.50,237.5M616.50,17.5L836.50,237.5M623.50,17.5L843.50,237.5M630.50,17.5L850.50,237.5M637.50,17.5L857.50,237.5M644.50,17.5L864.50,237.5M651.50,17.5L871.50,237.5M658.50,17.5L878.50,237.5M665.50,17.5L885.50,237.5M672.50,17.5L892.50,237.5M679.50,17.5L899.50,237.5M686.50,17.5L906.50,237.5M693.50,17.5L913.50,237.5M700.50,17.5L920.50,237.5M707.50,17.5L927.50,237.5M714.50,17.5L934.50,237.5M721.50,17.5L941.50,237.5M728.50,17.5L948.50,237.5M735.50,17.5L955.50,237.5M742.50,17.5L962.50,237.5M749.50,17.5L969.50,237.5M756.50,17.5L976.50,237.5M763.50,17.5L983.50,237.5M770.50,17.5L990.50,237.5M777.50,17.5L997.50,237.5M784.50,17.5L1004.50,237.5M791.50,17.5L1011.50,237.5M798.50,17.5L1018.50,237.5M805.50,17.5L1025.50,237.5" clip-path="url(#crb)" stroke="#456ab0" stroke-width="1.15" shape-rendering="auto" fill="none"/>
<path d="M444.90,60.00 L445.68,60.57 L446.72,61.31 L447.95,62.20 L449.32,63.19 L450.78,64.25 L452.25,65.34 L453.67,66.44 L455.00,67.50 L456.25,68.53 L457.51,69.57 L458.76,70.63 L460.01,71.72 L461.25,72.84 L462.50,74.00 L463.75,75.22 L465.00,76.50 L466.26,77.90 L467.55,79.43 L468.84,81.04 L470.12,82.69 L471.40,84.31 L472.64,85.85 L473.85,87.27 L475.00,88.50 L476.09,89.54 L477.12,90.42 L478.10,91.19 L479.06,91.88 L480.01,92.51 L480.98,93.14 L481.97,93.79 L483.00,94.50 L484.05,95.24 L485.09,95.95 L486.13,96.66 L487.19,97.38 L488.29,98.10 L489.45,98.86 L490.68,99.65 L492.00,100.50 L493.46,101.42 L495.06,102.42 L496.76,103.46 L498.50,104.53 L500.24,105.60 L501.94,106.63 L503.54,107.61 L505.00,108.50 L506.31,109.32 L507.50,110.10 L508.62,110.83 L509.68,111.53 L510.71,112.19 L511.76,112.82 L512.84,113.43 L514.00,114.00 L515.05,114.54 L515.90,115.03 L516.68,115.49 L517.52,115.92 L518.56,116.33 L519.93,116.72 L521.76,117.11 L524.20,117.50 L527.35,117.89 L531.15,118.26 L535.42,118.62 L540.02,118.98 L544.78,119.32 L549.56,119.65 L554.18,119.98 L558.50,120.30 L562.43,120.62 L566.10,120.94 L569.63,121.26 L573.16,121.57 L576.82,121.86 L580.76,122.14 L585.11,122.38 L590.00,122.60 L595.64,122.78 L602.01,122.93 L608.84,123.06 L615.92,123.16 L622.99,123.25 L629.82,123.34 L636.17,123.42 L641.80,123.50 L646.58,123.58 L650.68,123.65 L654.31,123.72 L657.70,123.78 L661.05,123.83 L664.57,123.88 L668.48,123.94 L673.00,124.00 L678.24,124.07 L684.04,124.15 L690.21,124.23 L696.58,124.31 L702.93,124.39 L709.07,124.45 L714.83,124.49 L720.00,124.50 L724.70,124.52 L729.16,124.55 L733.37,124.58 L737.31,124.59 L740.96,124.56 L744.30,124.46 L747.32,124.28 L750.00,124.00 L752.23,123.65 L753.98,123.25 L755.35,122.81 L756.44,122.28 L757.35,121.66 L758.18,120.92 L759.03,120.04 L760.00,119.00 L761.03,117.81 L762.01,116.50 L762.93,115.06 L763.81,113.50 L764.65,111.81 L765.46,110.00 L766.24,108.06 L767.00,106.00 L767.73,103.79 L768.44,101.41 L769.11,98.89 L769.75,96.25 L770.36,93.52 L770.94,90.72 L771.48,87.87 L772.00,85.00 L772.48,82.07 L772.93,79.03 L773.34,75.92 L773.72,72.75 L774.07,69.55 L774.40,66.34 L774.71,63.15 L775.00,60.00 L775.27,56.81 L775.50,53.54 L775.72,50.23 L775.91,46.94 L776.08,43.72 L776.23,40.62 L776.37,37.69 L776.50,35.00 L776.61,32.46 L776.71,29.99 L776.78,27.64 L776.84,25.44 L776.89,23.43 L776.93,21.66 L776.97,20.17 L777.00,19.00 L780.30,19.00 L780.30,235.50 L776.00,235.50 L775.71,229.30 L775.35,220.63 L774.92,210.28 L774.44,199.00 L773.90,187.57 L773.30,176.74 L772.67,167.30 L772.00,160.00 L771.29,154.73 L770.54,150.71 L769.74,147.71 L768.89,145.50 L767.99,143.85 L767.05,142.54 L766.05,141.33 L765.00,140.00 L764.05,138.77 L763.25,137.95 L762.49,137.46 L761.64,137.19 L760.57,137.05 L759.15,136.95 L757.27,136.80 L754.80,136.50 L751.71,136.09 L748.12,135.69 L744.09,135.29 L739.70,134.91 L735.02,134.53 L730.13,134.17 L725.10,133.82 L720.00,133.50 L714.60,133.19 L708.74,132.90 L702.57,132.62 L696.27,132.36 L690.00,132.12 L683.93,131.89 L678.20,131.69 L673.00,131.50 L668.53,131.32 L664.71,131.13 L661.32,130.95 L658.08,130.80 L654.76,130.68 L651.11,130.62 L646.87,130.62 L641.80,130.70 L635.64,130.89 L628.52,131.20 L620.77,131.58 L612.71,132.01 L604.66,132.45 L596.96,132.86 L589.93,133.23 L583.90,133.50 L578.94,133.66 L574.78,133.73 L571.21,133.74 L568.02,133.72 L565.01,133.73 L561.97,133.79 L558.71,133.93 L555.00,134.20 L550.81,134.60 L546.33,135.08 L541.66,135.65 L536.94,136.27 L532.29,136.93 L527.84,137.62 L523.70,138.31 L520.00,139.00 L516.73,139.69 L513.78,140.39 L511.09,141.12 L508.62,141.86 L506.33,142.62 L504.16,143.40 L502.06,144.19 L500.00,145.00 L498.03,145.77 L496.22,146.49 L494.55,147.20 L492.97,147.94 L491.46,148.75 L489.98,149.66 L488.51,150.74 L487.00,152.00 L485.52,153.47 L484.11,155.12 L482.75,156.91 L481.41,158.81 L480.04,160.80 L478.62,162.85 L477.12,164.93 L475.50,167.00 L473.75,169.11 L471.90,171.29 L469.96,173.53 L467.97,175.81 L465.96,178.12 L463.94,180.43 L461.95,182.73 L460.00,185.00 L457.99,187.37 L455.84,189.92 L453.64,192.54 L451.48,195.12 L449.44,197.57 L447.60,199.77 L446.06,201.61 L444.90,203.00 Z" fill="none" stroke="#b9d0ee" stroke-width="0.6" stroke-opacity="0.7"/>
<path d="M444.90,101.90 L445.47,102.68 L446.22,103.73 L447.11,104.96 L448.11,106.34 L449.18,107.80 L450.29,109.29 L451.41,110.74 L452.50,112.10 L453.60,113.40 L454.74,114.70 L455.92,116.02 L457.12,117.33 L458.35,118.65 L459.57,119.97 L460.79,121.29 L462.00,122.60 L463.18,123.93 L464.35,125.29 L465.51,126.66 L466.68,128.03 L467.86,129.37 L469.07,130.68 L470.31,131.93 L471.60,133.10 L472.89,134.21 L474.15,135.27 L475.41,136.29 L476.71,137.26 L478.09,138.18 L479.57,139.06 L481.20,139.90 L483.00,140.70 L484.92,141.50 L486.89,142.34 L488.95,143.16 L491.15,143.92 L493.52,144.58 L496.09,145.09 L498.90,145.41 L502.00,145.50 L505.54,145.30 L509.57,144.84 L513.92,144.17 L518.44,143.36 L522.96,142.48 L527.34,141.58 L531.40,140.73 L535.00,140.00 L538.06,139.34 L540.71,138.66 L543.06,137.99 L545.26,137.33 L547.42,136.69 L549.68,136.08 L552.16,135.52 L555.00,135.00 L558.19,134.56 L561.60,134.18 L565.19,133.86 L568.89,133.56 L572.67,133.27 L576.47,132.96 L580.23,132.61 L583.90,132.20 L587.51,131.74 L591.12,131.25 L594.73,130.73 L598.34,130.19 L601.96,129.62 L605.57,129.04 L609.18,128.43 L612.80,127.80 L616.44,127.14 L620.11,126.43 L623.79,125.69 L627.47,124.94 L631.13,124.18 L634.74,123.43 L638.31,122.70 L641.80,122.00 L645.19,121.30 L648.48,120.58 L651.71,119.86 L654.91,119.15 L658.10,118.49 L661.33,117.89 L664.61,117.39 L668.00,117.00 L671.48,116.76 L675.04,116.65 L678.64,116.65 L682.28,116.71 L685.94,116.80 L689.61,116.86 L693.27,116.88 L696.90,116.80 L700.55,116.63 L704.26,116.41 L707.99,116.16 L711.71,115.88 L715.38,115.59 L718.98,115.30 L722.46,115.03 L725.80,114.80 L729.03,114.61 L732.21,114.44 L735.30,114.30 L738.31,114.16 L741.20,114.01 L743.95,113.84 L746.56,113.64 L749.00,113.40 L751.28,113.13 L753.42,112.85 L755.42,112.55 L757.29,112.23 L759.02,111.87 L760.61,111.46 L762.07,111.01 L763.40,110.50 L764.55,109.96 L765.49,109.42 L766.27,108.84 L766.93,108.21 L767.51,107.51 L768.06,106.70 L768.61,105.77 L769.20,104.70 L769.82,103.47 L770.41,102.11 L770.98,100.63 L771.53,99.05 L772.05,97.38 L772.55,95.64 L773.03,93.84 L773.50,92.00 L773.95,90.10 L774.38,88.12 L774.79,86.07 L775.17,83.96 L775.54,81.78 L775.89,79.56 L776.21,77.30 L776.50,75.00 L776.76,72.64 L776.99,70.21 L777.19,67.72 L777.38,65.19 L777.54,62.63 L777.70,60.07 L777.85,57.52 L778.00,55.00 L778.15,52.47 L778.29,49.91 L778.43,47.32 L778.56,44.75 L778.68,42.21 L778.79,39.72 L778.90,37.31 L779.00,35.00 L779.10,32.70 L779.19,30.34 L779.28,28.00 L779.36,25.75 L779.44,23.65 L779.50,21.78 L779.56,20.21 L779.60,19.00 L780.60,19.00 L780.80,120.00 L780.20,149.00 L779.60,196.00 L779.60,235.50 L776.60,235.50 L776.43,232.31 L776.19,227.90 L775.91,222.64 L775.61,216.89 L775.29,210.99 L774.97,205.30 L774.67,200.19 L774.40,196.00 L774.17,192.68 L773.95,189.86 L773.74,187.45 L773.54,185.33 L773.34,183.41 L773.13,181.58 L772.92,179.75 L772.70,177.80 L772.47,175.82 L772.24,173.94 L772.01,172.13 L771.78,170.37 L771.53,168.64 L771.27,166.92 L771.00,165.18 L770.70,163.40 L770.41,161.56 L770.14,159.68 L769.87,157.78 L769.58,155.88 L769.25,154.02 L768.86,152.22 L768.38,150.50 L767.80,148.90 L767.13,147.39 L766.38,145.93 L765.57,144.54 L764.69,143.21 L763.74,141.97 L762.72,140.81 L761.64,139.75 L760.50,138.80 L759.28,137.98 L757.99,137.28 L756.63,136.70 L755.20,136.20 L753.72,135.76 L752.18,135.34 L750.61,134.93 L749.00,134.50 L747.29,134.07 L745.45,133.66 L743.53,133.28 L741.57,132.93 L739.64,132.58 L737.79,132.25 L736.06,131.92 L734.50,131.60 L733.27,131.27 L732.39,130.95 L731.70,130.63 L731.05,130.32 L730.29,130.03 L729.26,129.76 L727.81,129.51 L725.80,129.30 L723.12,129.13 L719.88,128.99 L716.22,128.89 L712.30,128.80 L708.26,128.73 L704.25,128.66 L700.41,128.58 L696.90,128.50 L693.72,128.38 L690.74,128.23 L687.89,128.07 L685.09,127.92 L682.28,127.79 L679.37,127.72 L676.30,127.71 L673.00,127.80 L669.43,127.97 L665.66,128.20 L661.74,128.50 L657.72,128.84 L653.66,129.24 L649.62,129.69 L645.64,130.17 L641.80,130.70 L637.96,131.30 L634.02,132.00 L630.05,132.76 L626.15,133.56 L622.39,134.37 L618.86,135.14 L615.63,135.87 L612.80,136.50 L610.45,137.05 L608.54,137.54 L606.96,137.98 L605.59,138.39 L604.33,138.79 L603.05,139.18 L601.65,139.58 L600.00,140.00 L598.20,140.41 L596.39,140.79 L594.55,141.15 L592.64,141.53 L590.65,141.92 L588.55,142.37 L586.31,142.89 L583.90,143.50 L581.29,144.22 L578.50,145.05 L575.56,145.96 L572.51,146.91 L569.39,147.88 L566.24,148.84 L563.09,149.75 L560.00,150.60 L556.88,151.38 L553.68,152.13 L550.42,152.85 L547.16,153.55 L543.95,154.24 L540.82,154.92 L537.82,155.61 L535.00,156.30 L532.38,156.99 L529.92,157.65 L527.60,158.30 L525.36,158.96 L523.17,159.62 L520.99,160.31 L518.78,161.03 L516.50,161.80 L514.17,162.58 L511.82,163.34 L509.46,164.12 L507.11,164.93 L504.76,165.80 L502.42,166.75 L500.10,167.81 L497.80,169.00 L495.52,170.29 L493.24,171.65 L490.97,173.09 L488.71,174.62 L486.48,176.26 L484.28,178.03 L482.12,179.94 L480.00,182.00 L477.91,184.30 L475.82,186.85 L473.76,189.58 L471.73,192.42 L469.76,195.28 L467.85,198.10 L466.03,200.80 L464.30,203.30 L462.66,205.62 L461.10,207.83 L459.61,209.95 L458.19,212.01 L456.84,214.03 L455.56,216.02 L454.35,218.00 L453.20,220.00 L452.12,222.10 L451.10,224.32 L450.14,226.58 L449.26,228.79 L448.45,230.88 L447.71,232.74 L447.06,234.31 L446.50,235.50 L446.05,236.24 L445.70,236.59 L445.46,236.64 L445.28,236.47 L445.16,236.18 L445.07,235.86 L444.99,235.61 L444.90,235.50 Z" fill="#fb8f3f" fill-opacity="0.74" stroke="none"/>
<path d="M444.90,17.00 L446.81,16.98 L449.51,16.94 L452.75,16.89 L456.25,16.85 L459.77,16.82 L463.04,16.83 L465.80,16.89 L467.80,17.00 L468.98,17.13 L469.55,17.25 L469.68,17.39 L469.53,17.57 L469.27,17.84 L469.05,18.21 L469.04,18.72 L469.40,19.40 L470.11,20.31 L471.00,21.44 L472.03,22.73 L473.14,24.12 L474.29,25.55 L475.41,26.95 L476.47,28.25 L477.40,29.40 L478.22,30.40 L478.99,31.31 L479.71,32.15 L480.39,32.96 L481.06,33.74 L481.73,34.53 L482.40,35.34 L483.10,36.20 L483.83,37.12 L484.57,38.09 L485.33,39.09 L486.08,40.09 L486.81,41.07 L487.52,42.01 L488.18,42.90 L488.80,43.70 L489.34,44.40 L489.80,45.01 L490.21,45.55 L490.59,46.06 L490.99,46.56 L491.42,47.08 L491.91,47.65 L492.50,48.30 L493.18,49.01 L493.91,49.76 L494.70,50.53 L495.53,51.34 L496.40,52.17 L497.28,53.02 L498.19,53.90 L499.10,54.80 L500.05,55.73 L501.06,56.71 L502.10,57.73 L503.16,58.76 L504.21,59.79 L505.23,60.82 L506.20,61.83 L507.10,62.80 L507.91,63.73 L508.63,64.64 L509.30,65.52 L509.95,66.40 L510.60,67.28 L511.27,68.16 L511.99,69.07 L512.80,70.00 L513.67,70.94 L514.58,71.89 L515.53,72.83 L516.51,73.79 L517.53,74.78 L518.58,75.81 L519.67,76.87 L520.80,78.00 L521.98,79.21 L523.21,80.52 L524.49,81.90 L525.81,83.29 L527.14,84.69 L528.47,86.04 L529.80,87.32 L531.10,88.50 L532.34,89.59 L533.52,90.62 L534.66,91.60 L535.83,92.53 L537.04,93.42 L538.35,94.25 L539.79,95.05 L541.40,95.80 L543.21,96.48 L545.20,97.06 L547.31,97.58 L549.53,98.06 L551.79,98.54 L554.07,99.03 L556.32,99.58 L558.50,100.20 L560.66,100.91 L562.84,101.70 L565.03,102.52 L567.22,103.38 L569.39,104.22 L571.51,105.04 L573.59,105.81 L575.60,106.50 L577.47,107.10 L579.19,107.64 L580.83,108.12 L582.44,108.58 L584.10,109.03 L585.87,109.48 L587.82,109.97 L590.00,110.50 L592.41,111.10 L594.96,111.75 L597.66,112.44 L600.49,113.13 L603.43,113.81 L606.47,114.44 L609.60,115.02 L612.80,115.50 L616.11,115.90 L619.56,116.23 L623.12,116.51 L626.77,116.74 L630.49,116.94 L634.25,117.11 L638.03,117.26 L641.80,117.40 L645.62,117.51 L649.54,117.59 L653.52,117.63 L657.52,117.65 L661.51,117.66 L665.44,117.66 L669.29,117.67 L673.00,117.70 L676.58,117.74 L680.07,117.79 L683.49,117.85 L686.84,117.90 L690.15,117.95 L693.43,117.98 L696.71,118.00 L700.00,118.00 L703.30,117.98 L706.60,117.95 L709.88,117.92 L713.14,117.86 L716.37,117.80 L719.56,117.71 L722.71,117.62 L725.80,117.50 L728.91,117.37 L732.07,117.23 L735.23,117.08 L738.32,116.91 L741.31,116.72 L744.12,116.50 L746.70,116.27 L749.00,116.00 L750.99,115.72 L752.72,115.43 L754.24,115.12 L755.58,114.78 L756.78,114.41 L757.89,114.00 L758.95,113.53 L760.00,113.00 L761.01,112.40 L761.92,111.73 L762.75,111.01 L763.50,110.25 L764.19,109.46 L764.83,108.64 L765.43,107.82 L766.00,107.00 L766.52,106.21 L766.96,105.44 L767.34,104.67 L767.69,103.88 L768.01,103.04 L768.32,102.12 L768.65,101.12 L769.00,100.00 L769.38,98.78 L769.76,97.49 L770.15,96.13 L770.53,94.69 L770.91,93.16 L771.29,91.54 L771.65,89.82 L772.00,88.00 L772.34,86.12 L772.68,84.20 L773.00,82.22 L773.32,80.12 L773.64,77.89 L773.94,75.48 L774.22,72.87 L774.50,70.00 L774.77,66.76 L775.03,63.13 L775.27,59.23 L775.51,55.19 L775.74,51.12 L775.94,47.15 L776.13,43.40 L776.30,40.00 L776.44,36.80 L776.57,33.62 L776.67,30.54 L776.76,27.62 L776.84,24.94 L776.90,22.56 L776.95,20.56 L777.00,19.00 L780.30,19.00 L780.80,60.00 L780.80,120.00 L780.20,149.00 L779.60,196.00 L779.30,235.50 L776.60,235.50 L776.43,232.31 L776.19,227.90 L775.91,222.64 L775.61,216.89 L775.29,210.99 L774.97,205.30 L774.67,200.19 L774.40,196.00 L774.17,192.68 L773.95,189.86 L773.74,187.45 L773.54,185.33 L773.34,183.41 L773.13,181.58 L772.92,179.75 L772.70,177.80 L772.47,175.82 L772.24,173.94 L772.01,172.13 L771.78,170.37 L771.53,168.64 L771.27,166.92 L771.00,165.18 L770.70,163.40 L770.41,161.56 L770.14,159.68 L769.87,157.78 L769.58,155.88 L769.25,154.02 L768.86,152.22 L768.38,150.50 L767.80,148.90 L767.13,147.40 L766.38,145.96 L765.57,144.60 L764.69,143.31 L763.74,142.08 L762.72,140.92 L761.64,139.83 L760.50,138.80 L759.25,137.85 L757.86,136.99 L756.39,136.21 L754.86,135.49 L753.31,134.82 L751.80,134.19 L750.35,133.59 L749.00,133.00 L747.79,132.45 L746.70,131.94 L745.67,131.48 L744.67,131.04 L743.65,130.64 L742.56,130.25 L741.36,129.87 L740.00,129.50 L738.55,129.13 L737.09,128.77 L735.57,128.42 L733.95,128.09 L732.20,127.78 L730.29,127.50 L728.17,127.23 L725.80,127.00 L723.14,126.80 L720.19,126.64 L717.03,126.52 L713.70,126.41 L710.27,126.31 L706.81,126.21 L703.36,126.11 L700.00,126.00 L696.71,125.86 L693.43,125.69 L690.15,125.52 L686.84,125.35 L683.49,125.20 L680.07,125.08 L676.58,125.01 L673.00,125.00 L669.29,125.07 L665.44,125.21 L661.51,125.41 L657.52,125.64 L653.52,125.87 L649.54,126.09 L645.62,126.28 L641.80,126.40 L638.03,126.48 L634.25,126.53 L630.49,126.56 L626.77,126.58 L623.12,126.56 L619.56,126.53 L616.11,126.48 L612.80,126.40 L609.60,126.29 L606.47,126.15 L603.43,125.98 L600.49,125.79 L597.66,125.59 L594.96,125.38 L592.41,125.18 L590.00,125.00 L587.82,124.84 L585.87,124.71 L584.10,124.58 L582.44,124.45 L580.83,124.30 L579.19,124.12 L577.47,123.89 L575.60,123.60 L573.59,123.24 L571.51,122.81 L569.39,122.33 L567.22,121.82 L565.03,121.29 L562.84,120.77 L560.66,120.27 L558.50,119.80 L556.41,119.36 L554.39,118.94 L552.39,118.53 L550.38,118.13 L548.32,117.73 L546.16,117.33 L543.87,116.92 L541.40,116.50 L538.65,116.05 L535.61,115.56 L532.40,115.05 L529.11,114.54 L525.85,114.06 L522.75,113.63 L519.89,113.27 L517.40,113.00 L515.31,112.82 L513.55,112.70 L512.01,112.63 L510.64,112.62 L509.33,112.66 L508.01,112.74 L506.60,112.86 L505.00,113.00 L503.25,113.17 L501.43,113.38 L499.57,113.62 L497.66,113.91 L495.74,114.23 L493.81,114.61 L491.89,115.03 L490.00,115.50 L488.12,116.03 L486.25,116.62 L484.38,117.25 L482.50,117.94 L480.62,118.66 L478.75,119.41 L476.88,120.20 L475.00,121.00 L473.13,121.83 L471.25,122.71 L469.38,123.62 L467.51,124.56 L465.63,125.53 L463.76,126.51 L461.88,127.50 L460.00,128.50 L458.01,129.57 L455.88,130.75 L453.68,131.99 L451.51,133.22 L449.46,134.39 L447.62,135.45 L446.07,136.34 L444.90,137.00 Z" fill="#5ccf44" fill-opacity="0.07" stroke="none"/>
<clipPath id="crg"><path d="M444.90,17.00 L446.81,16.98 L449.51,16.94 L452.75,16.89 L456.25,16.85 L459.77,16.82 L463.04,16.83 L465.80,16.89 L467.80,17.00 L468.98,17.13 L469.55,17.25 L469.68,17.39 L469.53,17.57 L469.27,17.84 L469.05,18.21 L469.04,18.72 L469.40,19.40 L470.11,20.31 L471.00,21.44 L472.03,22.73 L473.14,24.12 L474.29,25.55 L475.41,26.95 L476.47,28.25 L477.40,29.40 L478.22,30.40 L478.99,31.31 L479.71,32.15 L480.39,32.96 L481.06,33.74 L481.73,34.53 L482.40,35.34 L483.10,36.20 L483.83,37.12 L484.57,38.09 L485.33,39.09 L486.08,40.09 L486.81,41.07 L487.52,42.01 L488.18,42.90 L488.80,43.70 L489.34,44.40 L489.80,45.01 L490.21,45.55 L490.59,46.06 L490.99,46.56 L491.42,47.08 L491.91,47.65 L492.50,48.30 L493.18,49.01 L493.91,49.76 L494.70,50.53 L495.53,51.34 L496.40,52.17 L497.28,53.02 L498.19,53.90 L499.10,54.80 L500.05,55.73 L501.06,56.71 L502.10,57.73 L503.16,58.76 L504.21,59.79 L505.23,60.82 L506.20,61.83 L507.10,62.80 L507.91,63.73 L508.63,64.64 L509.30,65.52 L509.95,66.40 L510.60,67.28 L511.27,68.16 L511.99,69.07 L512.80,70.00 L513.67,70.94 L514.58,71.89 L515.53,72.83 L516.51,73.79 L517.53,74.78 L518.58,75.81 L519.67,76.87 L520.80,78.00 L521.98,79.21 L523.21,80.52 L524.49,81.90 L525.81,83.29 L527.14,84.69 L528.47,86.04 L529.80,87.32 L531.10,88.50 L532.34,89.59 L533.52,90.62 L534.66,91.60 L535.83,92.53 L537.04,93.42 L538.35,94.25 L539.79,95.05 L541.40,95.80 L543.21,96.48 L545.20,97.06 L547.31,97.58 L549.53,98.06 L551.79,98.54 L554.07,99.03 L556.32,99.58 L558.50,100.20 L560.66,100.91 L562.84,101.70 L565.03,102.52 L567.22,103.38 L569.39,104.22 L571.51,105.04 L573.59,105.81 L575.60,106.50 L577.47,107.10 L579.19,107.64 L580.83,108.12 L582.44,108.58 L584.10,109.03 L585.87,109.48 L587.82,109.97 L590.00,110.50 L592.41,111.10 L594.96,111.75 L597.66,112.44 L600.49,113.13 L603.43,113.81 L606.47,114.44 L609.60,115.02 L612.80,115.50 L616.11,115.90 L619.56,116.23 L623.12,116.51 L626.77,116.74 L630.49,116.94 L634.25,117.11 L638.03,117.26 L641.80,117.40 L645.62,117.51 L649.54,117.59 L653.52,117.63 L657.52,117.65 L661.51,117.66 L665.44,117.66 L669.29,117.67 L673.00,117.70 L676.58,117.74 L680.07,117.79 L683.49,117.85 L686.84,117.90 L690.15,117.95 L693.43,117.98 L696.71,118.00 L700.00,118.00 L703.30,117.98 L706.60,117.95 L709.88,117.92 L713.14,117.86 L716.37,117.80 L719.56,117.71 L722.71,117.62 L725.80,117.50 L728.91,117.37 L732.07,117.23 L735.23,117.08 L738.32,116.91 L741.31,116.72 L744.12,116.50 L746.70,116.27 L749.00,116.00 L750.99,115.72 L752.72,115.43 L754.24,115.12 L755.58,114.78 L756.78,114.41 L757.89,114.00 L758.95,113.53 L760.00,113.00 L761.01,112.40 L761.92,111.73 L762.75,111.01 L763.50,110.25 L764.19,109.46 L764.83,108.64 L765.43,107.82 L766.00,107.00 L766.52,106.21 L766.96,105.44 L767.34,104.67 L767.69,103.88 L768.01,103.04 L768.32,102.12 L768.65,101.12 L769.00,100.00 L769.38,98.78 L769.76,97.49 L770.15,96.13 L770.53,94.69 L770.91,93.16 L771.29,91.54 L771.65,89.82 L772.00,88.00 L772.34,86.12 L772.68,84.20 L773.00,82.22 L773.32,80.12 L773.64,77.89 L773.94,75.48 L774.22,72.87 L774.50,70.00 L774.77,66.76 L775.03,63.13 L775.27,59.23 L775.51,55.19 L775.74,51.12 L775.94,47.15 L776.13,43.40 L776.30,40.00 L776.44,36.80 L776.57,33.62 L776.67,30.54 L776.76,27.62 L776.84,24.94 L776.90,22.56 L776.95,20.56 L777.00,19.00 L780.30,19.00 L780.80,60.00 L780.80,120.00 L780.20,149.00 L779.60,196.00 L779.30,235.50 L776.60,235.50 L776.43,232.31 L776.19,227.90 L775.91,222.64 L775.61,216.89 L775.29,210.99 L774.97,205.30 L774.67,200.19 L774.40,196.00 L774.17,192.68 L773.95,189.86 L773.74,187.45 L773.54,185.33 L773.34,183.41 L773.13,181.58 L772.92,179.75 L772.70,177.80 L772.47,175.82 L772.24,173.94 L772.01,172.13 L771.78,170.37 L771.53,168.64 L771.27,166.92 L771.00,165.18 L770.70,163.40 L770.41,161.56 L770.14,159.68 L769.87,157.78 L769.58,155.88 L769.25,154.02 L768.86,152.22 L768.38,150.50 L767.80,148.90 L767.13,147.40 L766.38,145.96 L765.57,144.60 L764.69,143.31 L763.74,142.08 L762.72,140.92 L761.64,139.83 L760.50,138.80 L759.25,137.85 L757.86,136.99 L756.39,136.21 L754.86,135.49 L753.31,134.82 L751.80,134.19 L750.35,133.59 L749.00,133.00 L747.79,132.45 L746.70,131.94 L745.67,131.48 L744.67,131.04 L743.65,130.64 L742.56,130.25 L741.36,129.87 L740.00,129.50 L738.55,129.13 L737.09,128.77 L735.57,128.42 L733.95,128.09 L732.20,127.78 L730.29,127.50 L728.17,127.23 L725.80,127.00 L723.14,126.80 L720.19,126.64 L717.03,126.52 L713.70,126.41 L710.27,126.31 L706.81,126.21 L703.36,126.11 L700.00,126.00 L696.71,125.86 L693.43,125.69 L690.15,125.52 L686.84,125.35 L683.49,125.20 L680.07,125.08 L676.58,125.01 L673.00,125.00 L669.29,125.07 L665.44,125.21 L661.51,125.41 L657.52,125.64 L653.52,125.87 L649.54,126.09 L645.62,126.28 L641.80,126.40 L638.03,126.48 L634.25,126.53 L630.49,126.56 L626.77,126.58 L623.12,126.56 L619.56,126.53 L616.11,126.48 L612.80,126.40 L609.60,126.29 L606.47,126.15 L603.43,125.98 L600.49,125.79 L597.66,125.59 L594.96,125.38 L592.41,125.18 L590.00,125.00 L587.82,124.84 L585.87,124.71 L584.10,124.58 L582.44,124.45 L580.83,124.30 L579.19,124.12 L577.47,123.89 L575.60,123.60 L573.59,123.24 L571.51,122.81 L569.39,122.33 L567.22,121.82 L565.03,121.29 L562.84,120.77 L560.66,120.27 L558.50,119.80 L556.41,119.36 L554.39,118.94 L552.39,118.53 L550.38,118.13 L548.32,117.73 L546.16,117.33 L543.87,116.92 L541.40,116.50 L538.65,116.05 L535.61,115.56 L532.40,115.05 L529.11,114.54 L525.85,114.06 L522.75,113.63 L519.89,113.27 L517.40,113.00 L515.31,112.82 L513.55,112.70 L512.01,112.63 L510.64,112.62 L509.33,112.66 L508.01,112.74 L506.60,112.86 L505.00,113.00 L503.25,113.17 L501.43,113.38 L499.57,113.62 L497.66,113.91 L495.74,114.23 L493.81,114.61 L491.89,115.03 L490.00,115.50 L488.12,116.03 L486.25,116.62 L484.38,117.25 L482.50,117.94 L480.62,118.66 L478.75,119.41 L476.88,120.20 L475.00,121.00 L473.13,121.83 L471.25,122.71 L469.38,123.62 L467.51,124.56 L465.63,125.53 L463.76,126.51 L461.88,127.50 L460.00,128.50 L458.01,129.57 L455.88,130.75 L453.68,131.99 L451.51,133.22 L449.46,134.39 L447.62,135.45 L446.07,136.34 L444.90,137.00 Z"/></clipPath>
<path d="M203.50,237.5L423.50,17.5M210.50,237.5L430.50,17.5M217.50,237.5L437.50,17.5M224.50,237.5L444.50,17.5M231.50,237.5L451.50,17.5M238.50,237.5L458.50,17.5M245.50,237.5L465.50,17.5M252.50,237.5L472.50,17.5M259.50,237.5L479.50,17.5M266.50,237.5L486.50,17.5M273.50,237.5L493.50,17.5M280.50,237.5L500.50,17.5M287.50,237.5L507.50,17.5M294.50,237.5L514.50,17.5M301.50,237.5L521.50,17.5M308.50,237.5L528.50,17.5M315.50,237.5L535.50,17.5M322.50,237.5L542.50,17.5M329.50,237.5L549.50,17.5M336.50,237.5L556.50,17.5M343.50,237.5L563.50,17.5M350.50,237.5L570.50,17.5M357.50,237.5L577.50,17.5M364.50,237.5L584.50,17.5M371.50,237.5L591.50,17.5M378.50,237.5L598.50,17.5M385.50,237.5L605.50,17.5M392.50,237.5L612.50,17.5M399.50,237.5L619.50,17.5M406.50,237.5L626.50,17.5M413.50,237.5L633.50,17.5M420.50,237.5L640.50,17.5M427.50,237.5L647.50,17.5M434.50,237.5L654.50,17.5M441.50,237.5L661.50,17.5M448.50,237.5L668.50,17.5M455.50,237.5L675.50,17.5M462.50,237.5L682.50,17.5M469.50,237.5L689.50,17.5M476.50,237.5L696.50,17.5M483.50,237.5L703.50,17.5M490.50,237.5L710.50,17.5M497.50,237.5L717.50,17.5M504.50,237.5L724.50,17.5M511.50,237.5L731.50,17.5M518.50,237.5L738.50,17.5M525.50,237.5L745.50,17.5M532.50,237.5L752.50,17.5M539.50,237.5L759.50,17.5M546.50,237.5L766.50,17.5M553.50,237.5L773.50,17.5M560.50,237.5L780.50,17.5M567.50,237.5L787.50,17.5M574.50,237.5L794.50,17.5M581.50,237.5L801.50,17.5M588.50,237.5L808.50,17.5M595.50,237.5L815.50,17.5M602.50,237.5L822.50,17.5M609.50,237.5L829.50,17.5M616.50,237.5L836.50,17.5M623.50,237.5L843.50,17.5M630.50,237.5L850.50,17.5M637.50,237.5L857.50,17.5M644.50,237.5L864.50,17.5M651.50,237.5L871.50,17.5M658.50,237.5L878.50,17.5M665.50,237.5L885.50,17.5M672.50,237.5L892.50,17.5M679.50,237.5L899.50,17.5M686.50,237.5L906.50,17.5M693.50,237.5L913.50,17.5M700.50,237.5L920.50,17.5M707.50,237.5L927.50,17.5M714.50,237.5L934.50,17.5M721.50,237.5L941.50,17.5M728.50,237.5L948.50,17.5M735.50,237.5L955.50,17.5M742.50,237.5L962.50,17.5M749.50,237.5L969.50,17.5M756.50,237.5L976.50,17.5M763.50,237.5L983.50,17.5M770.50,237.5L990.50,17.5M777.50,237.5L997.50,17.5M784.50,237.5L1004.50,17.5M791.50,237.5L1011.50,17.5M798.50,237.5L1018.50,17.5M805.50,237.5L1025.50,17.5" clip-path="url(#crg)" stroke="#5cbc4f" stroke-width="1.15" shape-rendering="auto" fill="none"/>
<path d="M444.90,17.00 L446.81,16.98 L449.51,16.94 L452.75,16.89 L456.25,16.85 L459.77,16.82 L463.04,16.83 L465.80,16.89 L467.80,17.00 L468.98,17.13 L469.55,17.25 L469.68,17.39 L469.53,17.57 L469.27,17.84 L469.05,18.21 L469.04,18.72 L469.40,19.40 L470.11,20.31 L471.00,21.44 L472.03,22.73 L473.14,24.12 L474.29,25.55 L475.41,26.95 L476.47,28.25 L477.40,29.40 L478.22,30.40 L478.99,31.31 L479.71,32.15 L480.39,32.96 L481.06,33.74 L481.73,34.53 L482.40,35.34 L483.10,36.20 L483.83,37.12 L484.57,38.09 L485.33,39.09 L486.08,40.09 L486.81,41.07 L487.52,42.01 L488.18,42.90 L488.80,43.70 L489.34,44.40 L489.80,45.01 L490.21,45.55 L490.59,46.06 L490.99,46.56 L491.42,47.08 L491.91,47.65 L492.50,48.30 L493.18,49.01 L493.91,49.76 L494.70,50.53 L495.53,51.34 L496.40,52.17 L497.28,53.02 L498.19,53.90 L499.10,54.80 L500.05,55.73 L501.06,56.71 L502.10,57.73 L503.16,58.76 L504.21,59.79 L505.23,60.82 L506.20,61.83 L507.10,62.80 L507.91,63.73 L508.63,64.64 L509.30,65.52 L509.95,66.40 L510.60,67.28 L511.27,68.16 L511.99,69.07 L512.80,70.00 L513.67,70.94 L514.58,71.89 L515.53,72.83 L516.51,73.79 L517.53,74.78 L518.58,75.81 L519.67,76.87 L520.80,78.00 L521.98,79.21 L523.21,80.52 L524.49,81.90 L525.81,83.29 L527.14,84.69 L528.47,86.04 L529.80,87.32 L531.10,88.50 L532.34,89.59 L533.52,90.62 L534.66,91.60 L535.83,92.53 L537.04,93.42 L538.35,94.25 L539.79,95.05 L541.40,95.80 L543.21,96.48 L545.20,97.06 L547.31,97.58 L549.53,98.06 L551.79,98.54 L554.07,99.03 L556.32,99.58 L558.50,100.20 L560.66,100.91 L562.84,101.70 L565.03,102.52 L567.22,103.38 L569.39,104.22 L571.51,105.04 L573.59,105.81 L575.60,106.50 L577.47,107.10 L579.19,107.64 L580.83,108.12 L582.44,108.58 L584.10,109.03 L585.87,109.48 L587.82,109.97 L590.00,110.50 L592.41,111.10 L594.96,111.75 L597.66,112.44 L600.49,113.13 L603.43,113.81 L606.47,114.44 L609.60,115.02 L612.80,115.50 L616.11,115.90 L619.56,116.23 L623.12,116.51 L626.77,116.74 L630.49,116.94 L634.25,117.11 L638.03,117.26 L641.80,117.40 L645.62,117.51 L649.54,117.59 L653.52,117.63 L657.52,117.65 L661.51,117.66 L665.44,117.66 L669.29,117.67 L673.00,117.70 L676.58,117.74 L680.07,117.79 L683.49,117.85 L686.84,117.90 L690.15,117.95 L693.43,117.98 L696.71,118.00 L700.00,118.00 L703.30,117.98 L706.60,117.95 L709.88,117.92 L713.14,117.86 L716.37,117.80 L719.56,117.71 L722.71,117.62 L725.80,117.50 L728.91,117.37 L732.07,117.23 L735.23,117.08 L738.32,116.91 L741.31,116.72 L744.12,116.50 L746.70,116.27 L749.00,116.00 L750.99,115.72 L752.72,115.43 L754.24,115.12 L755.58,114.78 L756.78,114.41 L757.89,114.00 L758.95,113.53 L760.00,113.00 L761.01,112.40 L761.92,111.73 L762.75,111.01 L763.50,110.25 L764.19,109.46 L764.83,108.64 L765.43,107.82 L766.00,107.00 L766.52,106.21 L766.96,105.44 L767.34,104.67 L767.69,103.88 L768.01,103.04 L768.32,102.12 L768.65,101.12 L769.00,100.00 L769.38,98.78 L769.76,97.49 L770.15,96.13 L770.53,94.69 L770.91,93.16 L771.29,91.54 L771.65,89.82 L772.00,88.00 L772.34,86.12 L772.68,84.20 L773.00,82.22 L773.32,80.12 L773.64,77.89 L773.94,75.48 L774.22,72.87 L774.50,70.00 L774.77,66.76 L775.03,63.13 L775.27,59.23 L775.51,55.19 L775.74,51.12 L775.94,47.15 L776.13,43.40 L776.30,40.00 L776.44,36.80 L776.57,33.62 L776.67,30.54 L776.76,27.62 L776.84,24.94 L776.90,22.56 L776.95,20.56 L777.00,19.00 L780.30,19.00 L780.80,60.00 L780.80,120.00 L780.20,149.00 L779.60,196.00 L779.30,235.50 L776.60,235.50 L776.43,232.31 L776.19,227.90 L775.91,222.64 L775.61,216.89 L775.29,210.99 L774.97,205.30 L774.67,200.19 L774.40,196.00 L774.17,192.68 L773.95,189.86 L773.74,187.45 L773.54,185.33 L773.34,183.41 L773.13,181.58 L772.92,179.75 L772.70,177.80 L772.47,175.82 L772.24,173.94 L772.01,172.13 L771.78,170.37 L771.53,168.64 L771.27,166.92 L771.00,165.18 L770.70,163.40 L770.41,161.56 L770.14,159.68 L769.87,157.78 L769.58,155.88 L769.25,154.02 L768.86,152.22 L768.38,150.50 L767.80,148.90 L767.13,147.40 L766.38,145.96 L765.57,144.60 L764.69,143.31 L763.74,142.08 L762.72,140.92 L761.64,139.83 L760.50,138.80 L759.25,137.85 L757.86,136.99 L756.39,136.21 L754.86,135.49 L753.31,134.82 L751.80,134.19 L750.35,133.59 L749.00,133.00 L747.79,132.45 L746.70,131.94 L745.67,131.48 L744.67,131.04 L743.65,130.64 L742.56,130.25 L741.36,129.87 L740.00,129.50 L738.55,129.13 L737.09,128.77 L735.57,128.42 L733.95,128.09 L732.20,127.78 L730.29,127.50 L728.17,127.23 L725.80,127.00 L723.14,126.80 L720.19,126.64 L717.03,126.52 L713.70,126.41 L710.27,126.31 L706.81,126.21 L703.36,126.11 L700.00,126.00 L696.71,125.86 L693.43,125.69 L690.15,125.52 L686.84,125.35 L683.49,125.20 L680.07,125.08 L676.58,125.01 L673.00,125.00 L669.29,125.07 L665.44,125.21 L661.51,125.41 L657.52,125.64 L653.52,125.87 L649.54,126.09 L645.62,126.28 L641.80,126.40 L638.03,126.48 L634.25,126.53 L630.49,126.56 L626.77,126.58 L623.12,126.56 L619.56,126.53 L616.11,126.48 L612.80,126.40 L609.60,126.29 L606.47,126.15 L603.43,125.98 L600.49,125.79 L597.66,125.59 L594.96,125.38 L592.41,125.18 L590.00,125.00 L587.82,124.84 L585.87,124.71 L584.10,124.58 L582.44,124.45 L580.83,124.30 L579.19,124.12 L577.47,123.89 L575.60,123.60 L573.59,123.24 L571.51,122.81 L569.39,122.33 L567.22,121.82 L565.03,121.29 L562.84,120.77 L560.66,120.27 L558.50,119.80 L556.41,119.36 L554.39,118.94 L552.39,118.53 L550.38,118.13 L548.32,117.73 L546.16,117.33 L543.87,116.92 L541.40,116.50 L538.65,116.05 L535.61,115.56 L532.40,115.05 L529.11,114.54 L525.85,114.06 L522.75,113.63 L519.89,113.27 L517.40,113.00 L515.31,112.82 L513.55,112.70 L512.01,112.63 L510.64,112.62 L509.33,112.66 L508.01,112.74 L506.60,112.86 L505.00,113.00 L503.25,113.17 L501.43,113.38 L499.57,113.62 L497.66,113.91 L495.74,114.23 L493.81,114.61 L491.89,115.03 L490.00,115.50 L488.12,116.03 L486.25,116.62 L484.38,117.25 L482.50,117.94 L480.62,118.66 L478.75,119.41 L476.88,120.20 L475.00,121.00 L473.13,121.83 L471.25,122.71 L469.38,123.62 L467.51,124.56 L465.63,125.53 L463.76,126.51 L461.88,127.50 L460.00,128.50 L458.01,129.57 L455.88,130.75 L453.68,131.99 L451.51,133.22 L449.46,134.39 L447.62,135.45 L446.07,136.34 L444.90,137.00 Z" fill="none" stroke="#bfe9b3" stroke-width="0.6" stroke-opacity="0.6"/>
<line x1="444.9" y1="126.9" x2="782.3" y2="126.9" stroke="#3f7fd6" stroke-width="1.4" stroke-dasharray="3.8 3.2"/>
<path d="M444.90,167.00 L447.62,166.48 L451.33,165.79 L455.76,164.95 L460.62,164.03 L465.67,163.08 L470.63,162.14 L475.23,161.26 L479.20,160.50 L482.66,159.84 L485.90,159.24 L488.96,158.68 L491.84,158.14 L494.56,157.62 L497.15,157.10 L499.63,156.56 L502.00,156.00 L504.05,155.45 L505.65,154.95 L506.99,154.46 L508.27,153.96 L509.67,153.42 L511.38,152.79 L513.60,152.07 L516.50,151.20 L520.23,150.14 L524.66,148.87 L529.60,147.48 L534.85,146.03 L540.21,144.57 L545.49,143.19 L550.48,141.94 L555.00,140.90 L559.07,140.08 L562.90,139.42 L566.54,138.88 L570.05,138.42 L573.48,137.99 L576.90,137.56 L580.35,137.08 L583.90,136.50 L587.51,135.83 L591.12,135.11 L594.73,134.36 L598.34,133.59 L601.96,132.83 L605.57,132.08 L609.18,131.36 L612.80,130.70 L616.41,130.08 L619.99,129.49 L623.57,128.93 L627.16,128.39 L630.76,127.87 L634.39,127.36 L638.07,126.87 L641.80,126.40 L645.45,125.93 L648.94,125.46 L652.39,125.01 L655.91,124.57 L659.62,124.16 L663.63,123.79 L668.05,123.47 L673.00,123.20 L678.73,122.98 L685.24,122.81 L692.26,122.68 L699.54,122.59 L706.79,122.53 L713.77,122.52 L720.19,122.54 L725.80,122.60 L730.69,122.71 L735.14,122.89 L739.20,123.11 L742.90,123.37 L746.27,123.64 L749.36,123.91 L752.19,124.17 L754.80,124.40 L757.09,124.58 L758.98,124.71 L760.55,124.83 L761.86,124.94 L762.99,125.09 L764.00,125.28 L764.98,125.54 L766.00,125.90 L766.99,126.34 L767.86,126.83 L768.64,127.38 L769.33,127.98 L769.97,128.64 L770.56,129.37 L771.13,130.15 L771.70,131.00 L772.25,131.94 L772.76,132.99 L773.23,134.11 L773.67,135.29 L774.08,136.49 L774.47,137.69 L774.84,138.87 L775.20,140.00 L775.54,141.09 L775.86,142.18 L776.16,143.27 L776.44,144.34 L776.71,145.41 L776.95,146.46 L777.18,147.49 L777.40,148.50 L777.60,149.45 L777.78,150.34 L777.94,151.19 L778.09,152.03 L778.22,152.90 L778.35,153.83 L778.48,154.85 L778.60,156.00 L778.73,157.15 L778.85,158.21 L778.97,159.29 L779.08,160.47 L779.18,161.84 L779.27,163.49 L779.35,165.51 L779.40,168.00 L779.44,170.99 L779.45,174.41 L779.46,178.18 L779.45,182.25 L779.43,186.54 L779.40,190.97 L779.35,195.48 L779.30,200.00 L779.23,204.89 L779.13,210.38 L779.02,216.17 L778.89,222.00 L778.77,227.58 L778.66,232.62 L778.57,236.86 L778.50,240.00" fill="none" stroke="#e8661e" stroke-width="1.35" stroke-dasharray="6 4"/>
<path d="M444.90,59.50 L446.06,60.07 L447.59,60.82 L449.40,61.71 L451.43,62.71 L453.59,63.77 L455.79,64.86 L457.95,65.95 L460.00,67.00 L462.00,68.04 L464.05,69.12 L466.14,70.22 L468.24,71.34 L470.33,72.47 L472.38,73.57 L474.38,74.66 L476.30,75.70 L478.11,76.71 L479.83,77.69 L481.48,78.65 L483.10,79.59 L484.73,80.53 L486.40,81.45 L488.14,82.38 L490.00,83.30 L491.97,84.22 L494.04,85.13 L496.16,86.03 L498.34,86.93 L500.54,87.82 L502.75,88.72 L504.94,89.61 L507.10,90.50 L509.24,91.39 L511.37,92.28 L513.51,93.17 L515.64,94.06 L517.78,94.95 L519.92,95.83 L522.06,96.72 L524.20,97.60 L526.35,98.48 L528.50,99.36 L530.65,100.24 L532.80,101.12 L534.95,101.99 L537.10,102.87 L539.25,103.74 L541.40,104.60 L543.54,105.47 L545.68,106.35 L547.82,107.23 L549.96,108.11 L552.09,108.98 L554.23,109.82 L556.36,110.63 L558.50,111.40 L560.66,112.14 L562.84,112.86 L565.03,113.56 L567.22,114.24 L569.39,114.88 L571.51,115.49 L573.59,116.07 L575.60,116.60 L577.47,117.09 L579.19,117.53 L580.83,117.93 L582.44,118.30 L584.10,118.64 L585.87,118.97 L587.82,119.29 L590.00,119.60 L592.41,119.91 L594.96,120.21 L597.66,120.49 L600.49,120.76 L603.43,121.01 L606.47,121.24 L609.60,121.43 L612.80,121.60 L616.11,121.73 L619.56,121.83 L623.12,121.91 L626.77,121.96 L630.49,121.99 L634.25,122.00 L638.03,122.00 L641.80,122.00 L645.64,121.97 L649.62,121.91 L653.66,121.83 L657.72,121.74 L661.74,121.65 L665.66,121.58 L669.43,121.52 L673.00,121.50 L676.30,121.52 L679.37,121.58 L682.28,121.66 L685.09,121.75 L687.89,121.84 L690.74,121.92 L693.72,121.98 L696.90,122.00 L700.27,121.97 L703.77,121.89 L707.37,121.78 L711.03,121.66 L714.74,121.55 L718.45,121.47 L722.15,121.45 L725.80,121.50 L729.54,121.63 L733.45,121.83 L737.44,122.08 L741.39,122.36 L745.20,122.66 L748.78,122.96 L752.01,123.25 L754.80,123.50 L757.12,123.72 L759.05,123.93 L760.66,124.13 L762.02,124.33 L763.20,124.53 L764.26,124.74 L765.27,124.96 L766.30,125.20 L767.28,125.44 L768.12,125.65 L768.84,125.87 L769.48,126.10 L770.06,126.36 L770.61,126.67 L771.14,127.05 L771.70,127.50 L772.26,128.04 L772.78,128.64 L773.28,129.30 L773.76,130.01 L774.21,130.77 L774.65,131.55 L775.08,132.37 L775.50,133.20 L775.91,134.07 L776.31,135.01 L776.70,135.99 L777.07,136.99 L777.43,138.01 L777.77,139.01 L778.09,139.98 L778.40,140.90 L778.69,141.81 L778.97,142.73 L779.23,143.64 L779.47,144.54 L779.70,145.39 L779.91,146.18 L780.11,146.89 L780.30,147.50 L780.47,148.01 L780.64,148.43 L780.78,148.78 L780.92,149.06 L781.04,149.29 L781.14,149.49 L781.23,149.65 L781.30,149.80" fill="none" stroke="#4cc62c" stroke-width="1.7"/>
</g>
<g font-size="10.2">
<text x="43.20" y="249.8" text-anchor="middle" letter-spacing="0.4">10<tspan dy="-3.9" font-size="8">−6</tspan></text>
<text x="99.77" y="249.8" text-anchor="middle" letter-spacing="0.4">10<tspan dy="-3.9" font-size="8">−5</tspan></text>
<text x="156.33" y="249.8" text-anchor="middle" letter-spacing="0.4">10<tspan dy="-3.9" font-size="8">−4</tspan></text>
<text x="212.90" y="249.8" text-anchor="middle" letter-spacing="0.4">10<tspan dy="-3.9" font-size="8">−3</tspan></text>
<text x="269.47" y="249.8" text-anchor="middle" letter-spacing="0.4">10<tspan dy="-3.9" font-size="8">−2</tspan></text>
<text x="326.03" y="249.8" text-anchor="middle" letter-spacing="0.4">10<tspan dy="-3.9" font-size="8">−1</tspan></text>
<text x="382.60" y="249.8" text-anchor="middle" letter-spacing="0.4">10<tspan dy="-3.9" font-size="8">0</tspan></text>
<text x="444.90" y="249.8" text-anchor="middle" letter-spacing="0.4">10<tspan dy="-3.9" font-size="8">−6</tspan></text>
<text x="501.50" y="249.8" text-anchor="middle" letter-spacing="0.4">10<tspan dy="-3.9" font-size="8">−5</tspan></text>
<text x="558.10" y="249.8" text-anchor="middle" letter-spacing="0.4">10<tspan dy="-3.9" font-size="8">−4</tspan></text>
<text x="614.70" y="249.8" text-anchor="middle" letter-spacing="0.4">10<tspan dy="-3.9" font-size="8">−3</tspan></text>
<text x="671.30" y="249.8" text-anchor="middle" letter-spacing="0.4">10<tspan dy="-3.9" font-size="8">−2</tspan></text>
<text x="727.90" y="249.8" text-anchor="middle" letter-spacing="0.4">10<tspan dy="-3.9" font-size="8">−1</tspan></text>
<text x="784.50" y="249.8" text-anchor="middle" letter-spacing="0.4">10<tspan dy="-3.9" font-size="8">0</tspan></text>
<text x="36.00" y="23.10" text-anchor="end" letter-spacing="0.3">1.3</text>
<text x="36.00" y="59.10" text-anchor="end" letter-spacing="0.3">1.2</text>
<text x="36.00" y="95.10" text-anchor="end" letter-spacing="0.3">1.1</text>
<text x="36.00" y="131.10" text-anchor="end" letter-spacing="0.3">1.0</text>
<text x="36.00" y="167.10" text-anchor="end" letter-spacing="0.3">0.9</text>
<text x="36.00" y="203.10" text-anchor="end" letter-spacing="0.3">0.8</text>
<text x="36.00" y="239.10" text-anchor="end" letter-spacing="0.3">0.7</text>
<text x="437.70" y="23.10" text-anchor="end" letter-spacing="0.3">1.3</text>
<text x="437.70" y="59.10" text-anchor="end" letter-spacing="0.3">1.2</text>
<text x="437.70" y="95.10" text-anchor="end" letter-spacing="0.3">1.1</text>
<text x="437.70" y="131.10" text-anchor="end" letter-spacing="0.3">1.0</text>
<text x="437.70" y="167.10" text-anchor="end" letter-spacing="0.3">0.9</text>
<text x="437.70" y="203.10" text-anchor="end" letter-spacing="0.3">0.8</text>
<text x="437.70" y="239.10" text-anchor="end" letter-spacing="0.3">0.7</text>
</g>
<g font-size="10.3" letter-spacing="0.15">
<rect x="157.00" y="188" width="112.2" height="46" fill="#fff" fill-opacity="0.9" stroke="#e9e9e9" stroke-width="0.8"/>
<rect x="160.50" y="191.6" width="38.50" height="7.0" fill="url(#hbl)"/>
<line x1="160.50" y1="195.4" x2="199.00" y2="195.4" stroke="#3f7fd6" stroke-width="1.2" stroke-dasharray="3 4"/>
<rect x="160.50" y="205.3" width="38.50" height="6.5" fill="#fb8f3f" fill-opacity="0.74"/>
<line x1="161.00" y1="208.5" x2="199.00" y2="208.5" stroke="#e8661e" stroke-width="1.3" stroke-dasharray="6 4"/>
<rect x="160.50" y="218.2" width="38.50" height="6.8" fill="url(#hgl)"/>
<line x1="160.50" y1="221.6" x2="199.00" y2="221.6" stroke="#4cc62c" stroke-width="1.5"/>
<text x="206.80" y="198.6">NLO</text>
<text x="206.80" y="211.6">NNLO</text>
<text x="206.80" y="224.6">NNLO+NLL<tspan font-style="italic">x</tspan></text>
<rect x="558.70" y="188" width="112.2" height="46" fill="#fff" fill-opacity="0.9" stroke="#e9e9e9" stroke-width="0.8"/>
<rect x="562.20" y="191.6" width="38.50" height="7.0" fill="url(#hbl)"/>
<line x1="562.20" y1="195.4" x2="600.70" y2="195.4" stroke="#3f7fd6" stroke-width="1.2" stroke-dasharray="3 4"/>
<rect x="562.20" y="205.3" width="38.50" height="6.5" fill="#fb8f3f" fill-opacity="0.74"/>
<line x1="562.70" y1="208.5" x2="600.70" y2="208.5" stroke="#e8661e" stroke-width="1.3" stroke-dasharray="6 4"/>
<rect x="562.20" y="218.2" width="38.50" height="6.8" fill="url(#hgl)"/>
<line x1="562.20" y1="221.6" x2="600.70" y2="221.6" stroke="#4cc62c" stroke-width="1.5"/>
<text x="608.50" y="198.6">NLO</text>
<text x="608.50" y="211.6">NNLO</text>
<text x="608.50" y="224.6">NNLO+NLL<tspan font-style="italic">x</tspan></text>
</g>
<line x1="42.7" y1="235.3" x2="383.1" y2="235.3" stroke="#222" stroke-width="1.1"/><path d="M43.20,235.3 V228.10 M60.23,235.3 V231.50 M70.19,235.3 V231.50 M77.26,235.3 V231.50 M82.74,235.3 V231.50 M87.22,235.3 V231.50 M91.00,235.3 V231.50 M94.28,235.3 V231.50 M97.18,235.3 V231.50 M99.77,235.3 V228.10 M116.79,235.3 V231.50 M126.76,235.3 V231.50 M133.82,235.3 V231.50 M139.31,235.3 V231.50 M143.78,235.3 V231.50 M147.57,235.3 V231.50 M150.85,235.3 V231.50 M153.74,235.3 V231.50 M156.33,235.3 V228.10 M173.36,235.3 V231.50 M183.32,235.3 V231.50 M190.39,235.3 V231.50 M195.87,235.3 V231.50 M200.35,235.3 V231.50 M204.14,235.3 V231.50 M207.42,235.3 V231.50 M210.31,235.3 V231.50 M212.90,235.3 V228.10 M229.93,235.3 V231.50 M239.89,235.3 V231.50 M246.96,235.3 V231.50 M252.44,235.3 V231.50 M256.92,235.3 V231.50 M260.70,235.3 V231.50 M263.98,235.3 V231.50 M266.88,235.3 V231.50 M269.47,235.3 V228.10 M286.49,235.3 V231.50 M296.46,235.3 V231.50 M303.52,235.3 V231.50 M309.01,235.3 V231.50 M313.48,235.3 V231.50 M317.27,235.3 V231.50 M320.55,235.3 V231.50 M323.44,235.3 V231.50 M326.03,235.3 V228.10 M343.06,235.3 V231.50 M353.02,235.3 V231.50 M360.09,235.3 V231.50 M365.57,235.3 V231.50 M370.05,235.3 V231.50 M373.84,235.3 V231.50 M377.12,235.3 V231.50 M380.01,235.3 V231.50 M382.60,235.3 V228.10" stroke="#222" stroke-width="0.9" fill="none"/>
<line x1="444.4" y1="235.3" x2="785.0" y2="235.3" stroke="#222" stroke-width="1.1"/><path d="M444.90,235.3 V228.10 M461.94,235.3 V231.50 M471.91,235.3 V231.50 M478.98,235.3 V231.50 M484.46,235.3 V231.50 M488.94,235.3 V231.50 M492.73,235.3 V231.50 M496.01,235.3 V231.50 M498.91,235.3 V231.50 M501.50,235.3 V228.10 M518.54,235.3 V231.50 M528.51,235.3 V231.50 M535.58,235.3 V231.50 M541.06,235.3 V231.50 M545.54,235.3 V231.50 M549.33,235.3 V231.50 M552.61,235.3 V231.50 M555.51,235.3 V231.50 M558.10,235.3 V228.10 M575.14,235.3 V231.50 M585.11,235.3 V231.50 M592.18,235.3 V231.50 M597.66,235.3 V231.50 M602.14,235.3 V231.50 M605.93,235.3 V231.50 M609.21,235.3 V231.50 M612.11,235.3 V231.50 M614.70,235.3 V228.10 M631.74,235.3 V231.50 M641.71,235.3 V231.50 M648.78,235.3 V231.50 M654.26,235.3 V231.50 M658.74,235.3 V231.50 M662.53,235.3 V231.50 M665.81,235.3 V231.50 M668.71,235.3 V231.50 M671.30,235.3 V228.10 M688.34,235.3 V231.50 M698.31,235.3 V231.50 M705.38,235.3 V231.50 M710.86,235.3 V231.50 M715.34,235.3 V231.50 M719.13,235.3 V231.50 M722.41,235.3 V231.50 M725.31,235.3 V231.50 M727.90,235.3 V228.10 M744.94,235.3 V231.50 M754.91,235.3 V231.50 M761.98,235.3 V231.50 M767.46,235.3 V231.50 M771.94,235.3 V231.50 M775.73,235.3 V231.50 M779.01,235.3 V231.50 M781.91,235.3 V231.50 M784.50,235.3 V228.10" stroke="#222" stroke-width="0.9" fill="none"/>
<text x="101.00" y="9.9" font-size="13" letter-spacing="0.55">NNPDF31sx DIS only, <tspan font-style="italic">Q</tspan></text><path d="M257.70,5.45H266.80M257.70,8.25H266.80" stroke="#262626" stroke-width="0.95"/><text x="272.60" y="9.9" font-size="13" letter-spacing="0.55">100 GeV</text>
<text x="502.80" y="9.9" font-size="13" letter-spacing="0.55">NNPDF31sx DIS only, <tspan font-style="italic">Q</tspan></text><path d="M659.50,5.45H668.60M659.50,8.25H668.60" stroke="#262626" stroke-width="0.95"/><text x="674.40" y="9.9" font-size="13" letter-spacing="0.55">100 GeV</text>
<text x="213.2" y="263.6" text-anchor="middle" font-size="11" font-style="italic">x</text>
<text x="615.2" y="263.6" text-anchor="middle" font-size="11" font-style="italic">x</text>
<text transform="translate(10.2,126.3) rotate(-90)" text-anchor="middle" font-size="12" letter-spacing="0.3"><tspan font-style="italic">g</tspan>(<tspan font-style="italic">x</tspan>, <tspan font-style="italic">Q</tspan><tspan dy="-4.6" font-size="8.4">2</tspan><tspan dy="4.6">)</tspan> / <tspan font-style="italic">g</tspan>(<tspan font-style="italic">x</tspan>, <tspan font-style="italic">Q</tspan><tspan dy="-4.6" font-size="8.4">2</tspan><tspan dy="4.6">)</tspan><tspan dy="-1.2" font-size="11">[ref]</tspan></text>
<text transform="translate(412.6,127.3) rotate(-90)" text-anchor="middle" font-size="12" letter-spacing="0.55"><tspan font-size="13">Σ</tspan>(<tspan font-style="italic">x</tspan>, <tspan font-style="italic">Q</tspan><tspan dy="-4.6" font-size="8.4">2</tspan><tspan dy="4.6">)</tspan> / <tspan font-size="13">Σ</tspan>(<tspan font-style="italic">x</tspan>, <tspan font-style="italic">Q</tspan><tspan dy="-4.6" font-size="8.4">2</tspan><tspan dy="4.6">)</tspan><tspan dy="-1.2" font-size="11">[ref]</tspan></text>
</svg>
</body></html>
